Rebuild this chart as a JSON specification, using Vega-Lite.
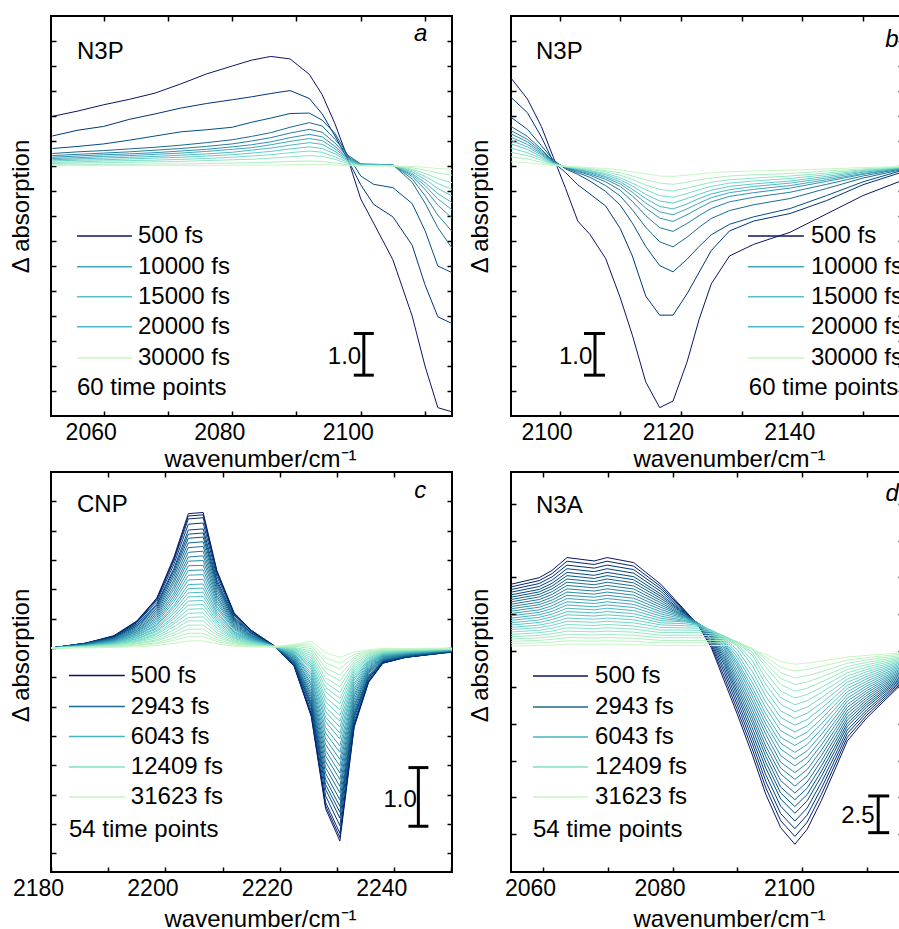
{
"$schema":"https://vega.github.io/schema/vega-lite/v6.json",
"padding":{"left":8,"top":14,"right":0,"bottom":0},
"columns":2,
"spacing":{"row":-4,"column":13},
"resolve":{"scale":{"color":"independent"}},
"config":{"font":"Liberation Sans","view":{"stroke":"black","strokeWidth":2},
"axis":{"domain":false,"grid":false,"tickColor":"black","tickWidth":1.5,"tickSize":-5,"labelFontSize":23,"labelColor":"black","labelPadding":10,"labelFlush":false,"titleFontSize":24,"titleFontWeight":"normal","titleColor":"black","minExtent":0,"maxExtent":200}},
"datasets":{
"a":[
{"k":0,"x":2052,"y":1.19},{"k":0,"x":2056,"y":1.32},{"k":0,"x":2060,"y":1.47},{"k":0,"x":2064,"y":1.60},{"k":0,"x":2068,"y":1.75},{"k":0,"x":2072,"y":1.97},{"k":0,"x":2076,"y":2.21},{"k":0,"x":2080,"y":2.40},{"k":0,"x":2083,"y":2.54},{"k":0,"x":2086,"y":2.63},{"k":0,"x":2089,"y":2.57},{"k":0,"x":2092,"y":2.20},{"k":0,"x":2094,"y":1.71},{"k":0,"x":2096,"y":1.01},{"k":0,"x":2098,"y":0.17},{"k":0,"x":2100,"y":-0.79},{"k":0,"x":2102,"y":-1.37},{"k":0,"x":2105,"y":-2.25},{"k":0,"x":2108,"y":-3.60},{"k":0,"x":2110,"y":-4.80},{"k":0,"x":2112,"y":-5.80},{"k":0,"x":2114.2,"y":-5.90},
{"k":1,"x":2052,"y":0.72},{"k":1,"x":2056,"y":0.86},{"k":1,"x":2060,"y":0.95},{"k":1,"x":2064,"y":1.12},{"k":1,"x":2068,"y":1.25},{"k":1,"x":2072,"y":1.39},{"k":1,"x":2076,"y":1.50},{"k":1,"x":2080,"y":1.59},{"k":1,"x":2083,"y":1.66},{"k":1,"x":2086,"y":1.74},{"k":1,"x":2089,"y":1.81},{"k":1,"x":2092,"y":1.62},{"k":1,"x":2094,"y":1.25},{"k":1,"x":2096,"y":0.72},{"k":1,"x":2098,"y":0.15},{"k":1,"x":2100,"y":-0.45},{"k":1,"x":2102,"y":-0.92},{"k":1,"x":2105,"y":-1.22},{"k":1,"x":2108,"y":-1.90},{"k":1,"x":2110,"y":-2.85},{"k":1,"x":2112,"y":-3.62},{"k":1,"x":2114.2,"y":-3.78},
{"k":2,"x":2052,"y":0.42},{"k":2,"x":2056,"y":0.47},{"k":2,"x":2060,"y":0.53},{"k":2,"x":2064,"y":0.62},{"k":2,"x":2068,"y":0.72},{"k":2,"x":2072,"y":0.82},{"k":2,"x":2076,"y":0.87},{"k":2,"x":2080,"y":0.93},{"k":2,"x":2083,"y":1.05},{"k":2,"x":2086,"y":1.15},{"k":2,"x":2089,"y":1.26},{"k":2,"x":2092,"y":1.27},{"k":2,"x":2094,"y":1.10},{"k":2,"x":2096,"y":0.78},{"k":2,"x":2098,"y":0.25},{"k":2,"x":2100,"y":-0.24},{"k":2,"x":2102,"y":-0.44},{"k":2,"x":2105,"y":-0.52},{"k":2,"x":2108,"y":-0.90},{"k":2,"x":2110,"y":-1.55},{"k":2,"x":2112,"y":-2.40},{"k":2,"x":2114.2,"y":-2.56},
{"k":3,"x":2052,"y":0.30},{"k":3,"x":2056,"y":0.34},{"k":3,"x":2060,"y":0.37},{"k":3,"x":2064,"y":0.41},{"k":3,"x":2068,"y":0.45},{"k":3,"x":2072,"y":0.50},{"k":3,"x":2076,"y":0.56},{"k":3,"x":2080,"y":0.63},{"k":3,"x":2083,"y":0.71},{"k":3,"x":2086,"y":0.80},{"k":3,"x":2089,"y":0.93},{"k":3,"x":2092,"y":1.04},{"k":3,"x":2094,"y":0.96},{"k":3,"x":2096,"y":0.64},{"k":3,"x":2098,"y":0.26},{"k":3,"x":2100,"y":0.05},{"k":3,"x":2102,"y":0.04},{"k":3,"x":2105,"y":0.03},{"k":3,"x":2108,"y":-0.39},{"k":3,"x":2110,"y":-0.89},{"k":3,"x":2112,"y":-1.48},{"k":3,"x":2114.2,"y":-1.97},
{"k":4,"x":2052,"y":0.25},{"k":4,"x":2056,"y":0.28},{"k":4,"x":2060,"y":0.31},{"k":4,"x":2064,"y":0.34},{"k":4,"x":2068,"y":0.38},{"k":4,"x":2072,"y":0.42},{"k":4,"x":2076,"y":0.47},{"k":4,"x":2080,"y":0.53},{"k":4,"x":2083,"y":0.60},{"k":4,"x":2086,"y":0.68},{"k":4,"x":2089,"y":0.79},{"k":4,"x":2092,"y":0.88},{"k":4,"x":2094,"y":0.81},{"k":4,"x":2096,"y":0.55},{"k":4,"x":2098,"y":0.22},{"k":4,"x":2100,"y":0.04},{"k":4,"x":2102,"y":0.04},{"k":4,"x":2105,"y":0.03},{"k":4,"x":2108,"y":-0.31},{"k":4,"x":2110,"y":-0.71},{"k":4,"x":2112,"y":-1.18},{"k":4,"x":2114.2,"y":-1.57},
{"k":5,"x":2052,"y":0.21},{"k":5,"x":2056,"y":0.24},{"k":5,"x":2060,"y":0.27},{"k":5,"x":2064,"y":0.29},{"k":5,"x":2068,"y":0.32},{"k":5,"x":2072,"y":0.36},{"k":5,"x":2076,"y":0.40},{"k":5,"x":2080,"y":0.46},{"k":5,"x":2083,"y":0.51},{"k":5,"x":2086,"y":0.58},{"k":5,"x":2089,"y":0.68},{"k":5,"x":2092,"y":0.76},{"k":5,"x":2094,"y":0.70},{"k":5,"x":2096,"y":0.47},{"k":5,"x":2098,"y":0.19},{"k":5,"x":2100,"y":0.04},{"k":5,"x":2102,"y":0.03},{"k":5,"x":2105,"y":0.02},{"k":5,"x":2108,"y":-0.25},{"k":5,"x":2110,"y":-0.56},{"k":5,"x":2112,"y":-0.94},{"k":5,"x":2114.2,"y":-1.25},
{"k":6,"x":2052,"y":0.18},{"k":6,"x":2056,"y":0.20},{"k":6,"x":2060,"y":0.23},{"k":6,"x":2064,"y":0.25},{"k":6,"x":2068,"y":0.28},{"k":6,"x":2072,"y":0.31},{"k":6,"x":2076,"y":0.35},{"k":6,"x":2080,"y":0.40},{"k":6,"x":2083,"y":0.44},{"k":6,"x":2086,"y":0.51},{"k":6,"x":2089,"y":0.59},{"k":6,"x":2092,"y":0.66},{"k":6,"x":2094,"y":0.61},{"k":6,"x":2096,"y":0.41},{"k":6,"x":2098,"y":0.17},{"k":6,"x":2100,"y":0.03},{"k":6,"x":2102,"y":0.03},{"k":6,"x":2105,"y":0.02},{"k":6,"x":2108,"y":-0.21},{"k":6,"x":2110,"y":-0.47},{"k":6,"x":2112,"y":-0.79},{"k":6,"x":2114.2,"y":-1.05},
{"k":7,"x":2052,"y":0.15},{"k":7,"x":2056,"y":0.17},{"k":7,"x":2060,"y":0.19},{"k":7,"x":2064,"y":0.21},{"k":7,"x":2068,"y":0.23},{"k":7,"x":2072,"y":0.26},{"k":7,"x":2076,"y":0.29},{"k":7,"x":2080,"y":0.33},{"k":7,"x":2083,"y":0.38},{"k":7,"x":2086,"y":0.43},{"k":7,"x":2089,"y":0.50},{"k":7,"x":2092,"y":0.56},{"k":7,"x":2094,"y":0.52},{"k":7,"x":2096,"y":0.35},{"k":7,"x":2098,"y":0.14},{"k":7,"x":2100,"y":0.03},{"k":7,"x":2102,"y":0.02},{"k":7,"x":2105,"y":0.02},{"k":7,"x":2108,"y":-0.18},{"k":7,"x":2110,"y":-0.40},{"k":7,"x":2112,"y":-0.66},{"k":7,"x":2114.2,"y":-0.88},
{"k":8,"x":2052,"y":0.12},{"k":8,"x":2056,"y":0.14},{"k":8,"x":2060,"y":0.15},{"k":8,"x":2064,"y":0.17},{"k":8,"x":2068,"y":0.19},{"k":8,"x":2072,"y":0.21},{"k":8,"x":2076,"y":0.24},{"k":8,"x":2080,"y":0.27},{"k":8,"x":2083,"y":0.31},{"k":8,"x":2086,"y":0.35},{"k":8,"x":2089,"y":0.41},{"k":8,"x":2092,"y":0.46},{"k":8,"x":2094,"y":0.42},{"k":8,"x":2096,"y":0.29},{"k":8,"x":2098,"y":0.12},{"k":8,"x":2100,"y":0.02},{"k":8,"x":2102,"y":0.02},{"k":8,"x":2105,"y":0.01},{"k":8,"x":2108,"y":-0.14},{"k":8,"x":2110,"y":-0.32},{"k":8,"x":2112,"y":-0.54},{"k":8,"x":2114.2,"y":-0.72},
{"k":9,"x":2052,"y":0.09},{"k":9,"x":2056,"y":0.10},{"k":9,"x":2060,"y":0.12},{"k":9,"x":2064,"y":0.13},{"k":9,"x":2068,"y":0.14},{"k":9,"x":2072,"y":0.16},{"k":9,"x":2076,"y":0.18},{"k":9,"x":2080,"y":0.21},{"k":9,"x":2083,"y":0.24},{"k":9,"x":2086,"y":0.27},{"k":9,"x":2089,"y":0.32},{"k":9,"x":2092,"y":0.36},{"k":9,"x":2094,"y":0.33},{"k":9,"x":2096,"y":0.22},{"k":9,"x":2098,"y":0.09},{"k":9,"x":2100,"y":0.02},{"k":9,"x":2102,"y":0.02},{"k":9,"x":2105,"y":0.01},{"k":9,"x":2108,"y":-0.11},{"k":9,"x":2110,"y":-0.25},{"k":9,"x":2112,"y":-0.42},{"k":9,"x":2114.2,"y":-0.56},
{"k":10,"x":2052,"y":0.06},{"k":10,"x":2056,"y":0.07},{"k":10,"x":2060,"y":0.08},{"k":10,"x":2064,"y":0.09},{"k":10,"x":2068,"y":0.10},{"k":10,"x":2072,"y":0.11},{"k":10,"x":2076,"y":0.13},{"k":10,"x":2080,"y":0.15},{"k":10,"x":2083,"y":0.16},{"k":10,"x":2086,"y":0.19},{"k":10,"x":2089,"y":0.22},{"k":10,"x":2092,"y":0.25},{"k":10,"x":2094,"y":0.23},{"k":10,"x":2096,"y":0.16},{"k":10,"x":2098,"y":0.06},{"k":10,"x":2100,"y":0.01},{"k":10,"x":2102,"y":0.01},{"k":10,"x":2105,"y":0.01},{"k":10,"x":2108,"y":-0.08},{"k":10,"x":2110,"y":-0.18},{"k":10,"x":2112,"y":-0.30},{"k":10,"x":2114.2,"y":-0.40},
{"k":11,"x":2052,"y":0.03},{"k":11,"x":2056,"y":0.03},{"k":11,"x":2060,"y":0.04},{"k":11,"x":2064,"y":0.04},{"k":11,"x":2068,"y":0.05},{"k":11,"x":2072,"y":0.05},{"k":11,"x":2076,"y":0.06},{"k":11,"x":2080,"y":0.07},{"k":11,"x":2083,"y":0.08},{"k":11,"x":2086,"y":0.09},{"k":11,"x":2089,"y":0.11},{"k":11,"x":2092,"y":0.12},{"k":11,"x":2094,"y":0.11},{"k":11,"x":2096,"y":0.07},{"k":11,"x":2098,"y":0.03},{"k":11,"x":2100,"y":0.01},{"k":11,"x":2102,"y":0.01},{"k":11,"x":2105,"y":0},{"k":11,"x":2108,"y":-0.04},{"k":11,"x":2110,"y":-0.10},{"k":11,"x":2112,"y":-0.17},{"k":11,"x":2114.2,"y":-0.22},
{"k":12,"x":2052,"y":0.01},{"k":12,"x":2056,"y":0.01},{"k":12,"x":2060,"y":0.01},{"k":12,"x":2064,"y":0.01},{"k":12,"x":2068,"y":0.01},{"k":12,"x":2072,"y":0.01},{"k":12,"x":2076,"y":0.01},{"k":12,"x":2080,"y":0.02},{"k":12,"x":2083,"y":0.02},{"k":12,"x":2086,"y":0.02},{"k":12,"x":2089,"y":0.03},{"k":12,"x":2092,"y":0.04},{"k":12,"x":2094,"y":0.04},{"k":12,"x":2096,"y":0.02},{"k":12,"x":2098,"y":0.01},{"k":12,"x":2100,"y":0},{"k":12,"x":2102,"y":0},{"k":12,"x":2105,"y":0},{"k":12,"x":2108,"y":-0.01},{"k":12,"x":2110,"y":-0.03},{"k":12,"x":2112,"y":-0.06},{"k":12,"x":2114.2,"y":-0.08}
],
"aL":[{"k":0,"x":2055.84,"x2":2064.4,"y":-1.68},{"k":6,"x":2055.84,"x2":2064.4,"y":-2.42},{"k":7.5,"x":2055.84,"x2":2064.4,"y":-3.14},{"k":7,"x":2055.84,"x2":2064.4,"y":-3.86},{"k":12,"x":2055.84,"x2":2064.4,"y":-4.61}],
"aT":[{"x":2065.33,"y":-1.68,"t":"500 fs"},{"x":2065.33,"y":-2.42,"t":"10000 fs"},{"x":2065.33,"y":-3.14,"t":"15000 fs"},{"x":2065.33,"y":-3.86,"t":"20000 fs"},{"x":2065.33,"y":-4.61,"t":"30000 fs"},{"x":2055.84,"y":-5.32,"t":"60 time points"},{"x":2055.84,"y":2.74,"t":"N3P"},{"x":2094.88,"y":-4.58,"t":"1.0"}],
"aG":[{"x":2109.34,"y":3.17,"t":"a"}],
"aS":[{"x":2100.48,"x2":2100.48,"y":-4.02,"y2":-5.02},{"x":2098.92,"x2":2102.03,"y":-4.02,"y2":-4.02},{"x":2098.92,"x2":2102.03,"y":-5.02,"y2":-5.02}],
"b":[
{"k":0,"x":2092,"y":2.11},{"k":0,"x":2094.7,"y":1.61},{"k":0,"x":2097,"y":0.95},{"k":0,"x":2099,"y":0.20},{"k":0,"x":2101,"y":-0.54},{"k":0,"x":2103,"y":-1.32},{"k":0,"x":2105,"y":-1.64},{"k":0,"x":2107.6,"y":-2.22},{"k":0,"x":2110,"y":-3.16},{"k":0,"x":2112,"y":-4.06},{"k":0,"x":2114.2,"y":-5.18},{"k":0,"x":2116.5,"y":-5.80},{"k":0,"x":2118.7,"y":-5.64},{"k":0,"x":2121,"y":-4.71},{"k":0,"x":2123,"y":-3.68},{"k":0,"x":2125,"y":-2.83},{"k":0,"x":2128,"y":-2.16},{"k":0,"x":2132,"y":-1.88},{"k":0,"x":2138,"y":-1.59},{"k":0,"x":2144,"y":-1.15},{"k":0,"x":2150,"y":-0.71},{"k":0,"x":2156.6,"y":-0.34},
{"k":1,"x":2092,"y":1.65},{"k":1,"x":2094.7,"y":1.28},{"k":1,"x":2097,"y":0.70},{"k":1,"x":2099,"y":0.09},{"k":1,"x":2101,"y":-0.16},{"k":1,"x":2103,"y":-0.45},{"k":1,"x":2105,"y":-0.67},{"k":1,"x":2107.6,"y":-0.96},{"k":1,"x":2110,"y":-1.50},{"k":1,"x":2112,"y":-2.16},{"k":1,"x":2114.2,"y":-3.12},{"k":1,"x":2116.5,"y":-3.58},{"k":1,"x":2118.7,"y":-3.58},{"k":1,"x":2121,"y":-3.07},{"k":1,"x":2123,"y":-2.55},{"k":1,"x":2125,"y":-2.03},{"k":1,"x":2128,"y":-1.56},{"k":1,"x":2132,"y":-1.32},{"k":1,"x":2138,"y":-1.14},{"k":1,"x":2144,"y":-0.83},{"k":1,"x":2150,"y":-0.45},{"k":1,"x":2156.6,"y":-0.14},
{"k":2,"x":2092,"y":1.17},{"k":2,"x":2094.7,"y":0.88},{"k":2,"x":2097,"y":0.49},{"k":2,"x":2099,"y":0.14},{"k":2,"x":2101,"y":-0.07},{"k":2,"x":2103,"y":-0.20},{"k":2,"x":2105,"y":-0.36},{"k":2,"x":2107.6,"y":-0.61},{"k":2,"x":2110,"y":-0.94},{"k":2,"x":2112,"y":-1.37},{"k":2,"x":2114.2,"y":-1.93},{"k":2,"x":2116.5,"y":-2.39},{"k":2,"x":2118.7,"y":-2.54},{"k":2,"x":2121,"y":-2.24},{"k":2,"x":2123,"y":-1.93},{"k":2,"x":2125,"y":-1.65},{"k":2,"x":2128,"y":-1.40},{"k":2,"x":2132,"y":-1.22},{"k":2,"x":2138,"y":-1.02},{"k":2,"x":2144,"y":-0.71},{"k":2,"x":2150,"y":-0.38},{"k":2,"x":2156.6,"y":-0.10},
{"k":3,"x":2092,"y":0.95},{"k":3,"x":2094.7,"y":0.71},{"k":3,"x":2097,"y":0.40},{"k":3,"x":2099,"y":0.11},{"k":3,"x":2101,"y":-0.05},{"k":3,"x":2103,"y":-0.16},{"k":3,"x":2105,"y":-0.27},{"k":3,"x":2107.6,"y":-0.47},{"k":3,"x":2110,"y":-0.72},{"k":3,"x":2112,"y":-1.05},{"k":3,"x":2114.2,"y":-1.47},{"k":3,"x":2116.5,"y":-1.82},{"k":3,"x":2118.7,"y":-1.94},{"k":3,"x":2121,"y":-1.71},{"k":3,"x":2123,"y":-1.47},{"k":3,"x":2125,"y":-1.26},{"k":3,"x":2128,"y":-1.07},{"k":3,"x":2132,"y":-0.93},{"k":3,"x":2138,"y":-0.78},{"k":3,"x":2144,"y":-0.54},{"k":3,"x":2150,"y":-0.29},{"k":3,"x":2156.6,"y":-0.08},
{"k":4,"x":2092,"y":0.85},{"k":4,"x":2094.7,"y":0.64},{"k":4,"x":2097,"y":0.36},{"k":4,"x":2099,"y":0.10},{"k":4,"x":2101,"y":-0.04},{"k":4,"x":2103,"y":-0.13},{"k":4,"x":2105,"y":-0.22},{"k":4,"x":2107.6,"y":-0.38},{"k":4,"x":2110,"y":-0.58},{"k":4,"x":2112,"y":-0.85},{"k":4,"x":2114.2,"y":-1.19},{"k":4,"x":2116.5,"y":-1.48},{"k":4,"x":2118.7,"y":-1.57},{"k":4,"x":2121,"y":-1.38},{"k":4,"x":2123,"y":-1.19},{"k":4,"x":2125,"y":-1.02},{"k":4,"x":2128,"y":-0.86},{"k":4,"x":2132,"y":-0.75},{"k":4,"x":2138,"y":-0.63},{"k":4,"x":2144,"y":-0.44},{"k":4,"x":2150,"y":-0.24},{"k":4,"x":2156.6,"y":-0.06},
{"k":5,"x":2092,"y":0.77},{"k":5,"x":2094.7,"y":0.58},{"k":5,"x":2097,"y":0.32},{"k":5,"x":2099,"y":0.09},{"k":5,"x":2101,"y":-0.03},{"k":5,"x":2103,"y":-0.11},{"k":5,"x":2105,"y":-0.19},{"k":5,"x":2107.6,"y":-0.32},{"k":5,"x":2110,"y":-0.49},{"k":5,"x":2112,"y":-0.72},{"k":5,"x":2114.2,"y":-1.01},{"k":5,"x":2116.5,"y":-1.25},{"k":5,"x":2118.7,"y":-1.33},{"k":5,"x":2121,"y":-1.17},{"k":5,"x":2123,"y":-1.01},{"k":5,"x":2125,"y":-0.86},{"k":5,"x":2128,"y":-0.73},{"k":5,"x":2132,"y":-0.64},{"k":5,"x":2138,"y":-0.53},{"k":5,"x":2144,"y":-0.37},{"k":5,"x":2150,"y":-0.20},{"k":5,"x":2156.6,"y":-0.05},
{"k":6,"x":2092,"y":0.69},{"k":6,"x":2094.7,"y":0.52},{"k":6,"x":2097,"y":0.29},{"k":6,"x":2099,"y":0.08},{"k":6,"x":2101,"y":-0.03},{"k":6,"x":2103,"y":-0.09},{"k":6,"x":2105,"y":-0.16},{"k":6,"x":2107.6,"y":-0.28},{"k":6,"x":2110,"y":-0.43},{"k":6,"x":2112,"y":-0.63},{"k":6,"x":2114.2,"y":-0.89},{"k":6,"x":2116.5,"y":-1.10},{"k":6,"x":2118.7,"y":-1.17},{"k":6,"x":2121,"y":-1.03},{"k":6,"x":2123,"y":-0.89},{"k":6,"x":2125,"y":-0.76},{"k":6,"x":2128,"y":-0.64},{"k":6,"x":2132,"y":-0.56},{"k":6,"x":2138,"y":-0.47},{"k":6,"x":2144,"y":-0.33},{"k":6,"x":2150,"y":-0.18},{"k":6,"x":2156.6,"y":-0.05},
{"k":7,"x":2092,"y":0.61},{"k":7,"x":2094.7,"y":0.46},{"k":7,"x":2097,"y":0.26},{"k":7,"x":2099,"y":0.07},{"k":7,"x":2101,"y":-0.02},{"k":7,"x":2103,"y":-0.08},{"k":7,"x":2105,"y":-0.14},{"k":7,"x":2107.6,"y":-0.25},{"k":7,"x":2110,"y":-0.38},{"k":7,"x":2112,"y":-0.56},{"k":7,"x":2114.2,"y":-0.78},{"k":7,"x":2116.5,"y":-0.97},{"k":7,"x":2118.7,"y":-1.03},{"k":7,"x":2121,"y":-0.91},{"k":7,"x":2123,"y":-0.78},{"k":7,"x":2125,"y":-0.67},{"k":7,"x":2128,"y":-0.57},{"k":7,"x":2132,"y":-0.49},{"k":7,"x":2138,"y":-0.41},{"k":7,"x":2144,"y":-0.29},{"k":7,"x":2150,"y":-0.15},{"k":7,"x":2156.6,"y":-0.04},
{"k":8,"x":2092,"y":0.53},{"k":8,"x":2094.7,"y":0.40},{"k":8,"x":2097,"y":0.22},{"k":8,"x":2099,"y":0.06},{"k":8,"x":2101,"y":-0.02},{"k":8,"x":2103,"y":-0.07},{"k":8,"x":2105,"y":-0.12},{"k":8,"x":2107.6,"y":-0.21},{"k":8,"x":2110,"y":-0.33},{"k":8,"x":2112,"y":-0.48},{"k":8,"x":2114.2,"y":-0.68},{"k":8,"x":2116.5,"y":-0.84},{"k":8,"x":2118.7,"y":-0.89},{"k":8,"x":2121,"y":-0.78},{"k":8,"x":2123,"y":-0.68},{"k":8,"x":2125,"y":-0.58},{"k":8,"x":2128,"y":-0.49},{"k":8,"x":2132,"y":-0.43},{"k":8,"x":2138,"y":-0.36},{"k":8,"x":2144,"y":-0.25},{"k":8,"x":2150,"y":-0.13},{"k":8,"x":2156.6,"y":-0.04},
{"k":9,"x":2092,"y":0.43},{"k":9,"x":2094.7,"y":0.32},{"k":9,"x":2097,"y":0.18},{"k":9,"x":2099,"y":0.05},{"k":9,"x":2101,"y":-0.02},{"k":9,"x":2103,"y":-0.06},{"k":9,"x":2105,"y":-0.11},{"k":9,"x":2107.6,"y":-0.18},{"k":9,"x":2110,"y":-0.28},{"k":9,"x":2112,"y":-0.41},{"k":9,"x":2114.2,"y":-0.57},{"k":9,"x":2116.5,"y":-0.71},{"k":9,"x":2118.7,"y":-0.75},{"k":9,"x":2121,"y":-0.66},{"k":9,"x":2123,"y":-0.57},{"k":9,"x":2125,"y":-0.49},{"k":9,"x":2128,"y":-0.41},{"k":9,"x":2132,"y":-0.36},{"k":9,"x":2138,"y":-0.30},{"k":9,"x":2144,"y":-0.21},{"k":9,"x":2150,"y":-0.11},{"k":9,"x":2156.6,"y":-0.03},
{"k":10,"x":2092,"y":0.33},{"k":10,"x":2094.7,"y":0.25},{"k":10,"x":2097,"y":0.14},{"k":10,"x":2099,"y":0.04},{"k":10,"x":2101,"y":-0.01},{"k":10,"x":2103,"y":-0.05},{"k":10,"x":2105,"y":-0.08},{"k":10,"x":2107.6,"y":-0.14},{"k":10,"x":2110,"y":-0.22},{"k":10,"x":2112,"y":-0.32},{"k":10,"x":2114.2,"y":-0.46},{"k":10,"x":2116.5,"y":-0.56},{"k":10,"x":2118.7,"y":-0.60},{"k":10,"x":2121,"y":-0.53},{"k":10,"x":2123,"y":-0.46},{"k":10,"x":2125,"y":-0.39},{"k":10,"x":2128,"y":-0.33},{"k":10,"x":2132,"y":-0.29},{"k":10,"x":2138,"y":-0.24},{"k":10,"x":2144,"y":-0.17},{"k":10,"x":2150,"y":-0.09},{"k":10,"x":2156.6,"y":-0.02},
{"k":11,"x":2092,"y":0.22},{"k":11,"x":2094.7,"y":0.17},{"k":11,"x":2097,"y":0.09},{"k":11,"x":2099,"y":0.03},{"k":11,"x":2101,"y":-0.01},{"k":11,"x":2103,"y":-0.04},{"k":11,"x":2105,"y":-0.06},{"k":11,"x":2107.6,"y":-0.11},{"k":11,"x":2110,"y":-0.16},{"k":11,"x":2112,"y":-0.24},{"k":11,"x":2114.2,"y":-0.33},{"k":11,"x":2116.5,"y":-0.41},{"k":11,"x":2118.7,"y":-0.44},{"k":11,"x":2121,"y":-0.39},{"k":11,"x":2123,"y":-0.33},{"k":11,"x":2125,"y":-0.29},{"k":11,"x":2128,"y":-0.24},{"k":11,"x":2132,"y":-0.21},{"k":11,"x":2138,"y":-0.18},{"k":11,"x":2144,"y":-0.12},{"k":11,"x":2150,"y":-0.07},{"k":11,"x":2156.6,"y":-0.02},
{"k":12,"x":2092,"y":0.10},{"k":12,"x":2094.7,"y":0.08},{"k":12,"x":2097,"y":0.04},{"k":12,"x":2099,"y":0.01},{"k":12,"x":2101,"y":-0.01},{"k":12,"x":2103,"y":-0.02},{"k":12,"x":2105,"y":-0.04},{"k":12,"x":2107.6,"y":-0.06},{"k":12,"x":2110,"y":-0.09},{"k":12,"x":2112,"y":-0.14},{"k":12,"x":2114.2,"y":-0.19},{"k":12,"x":2116.5,"y":-0.24},{"k":12,"x":2118.7,"y":-0.25},{"k":12,"x":2121,"y":-0.22},{"k":12,"x":2123,"y":-0.19},{"k":12,"x":2125,"y":-0.16},{"k":12,"x":2128,"y":-0.14},{"k":12,"x":2132,"y":-0.12},{"k":12,"x":2138,"y":-0.10},{"k":12,"x":2144,"y":-0.07},{"k":12,"x":2150,"y":-0.04},{"k":12,"x":2156.6,"y":-0.01}
],
"bL":[{"k":0,"x":2131.04,"x2":2140.27,"y":-1.68},{"k":6,"x":2131.04,"x2":2140.27,"y":-2.42},{"k":7.5,"x":2131.04,"x2":2140.27,"y":-3.14},{"k":7,"x":2131.04,"x2":2140.27,"y":-3.86},{"k":12,"x":2131.04,"x2":2140.27,"y":-4.61}],
"bT":[{"x":2141.42,"y":-1.68,"t":"500 fs"},{"x":2141.42,"y":-2.42,"t":"10000 fs"},{"x":2141.42,"y":-3.14,"t":"15000 fs"},{"x":2141.42,"y":-3.86,"t":"20000 fs"},{"x":2141.42,"y":-4.61,"t":"30000 fs"},{"x":2131.2,"y":-5.32,"t":"60 time points"},{"x":2096.12,"y":2.74,"t":"N3P"},{"x":2099.91,"y":-4.58,"t":"1.0"}],
"bG":[{"x":2154.77,"y":3.03,"t":"b"}],
"bS":[{"x":2105.84,"x2":2105.84,"y":-4.02,"y2":-5.02},{"x":2104.03,"x2":2107.49,"y":-4.02,"y2":-4.02},{"x":2104.03,"x2":2107.49,"y":-5.02,"y2":-5.02}],
"c":[
{"k":0,"x":2180,"y":0},{"k":0,"x":2186,"y":0.08},{"k":0,"x":2191,"y":0.21},{"k":0,"x":2195,"y":0.46},{"k":0,"x":2198.5,"y":0.85},{"k":0,"x":2201.5,"y":1.55},{"k":0,"x":2204,"y":2.29},{"k":0,"x":2206.6,"y":2.31},{"k":0,"x":2209,"y":1.32},{"k":0,"x":2212,"y":0.60},{"k":0,"x":2215,"y":0.30},{"k":0,"x":2219,"y":0.04},{"k":0,"x":2222.5,"y":-0.31},{"k":0,"x":2225.5,"y":-1.17},{"k":0,"x":2228,"y":-2.74},{"k":0,"x":2230.5,"y":-3.29},{"k":0,"x":2233,"y":-1.35},{"k":0,"x":2235.5,"y":-0.59},{"k":0,"x":2238,"y":-0.26},{"k":0,"x":2242,"y":-0.16},{"k":0,"x":2250.1,"y":-0.07},
{"k":1,"x":2180,"y":0},{"k":1,"x":2186,"y":0.08},{"k":1,"x":2191,"y":0.2},{"k":1,"x":2195,"y":0.45},{"k":1,"x":2198.5,"y":0.84},{"k":1,"x":2201.5,"y":1.52},{"k":1,"x":2204,"y":2.25},{"k":1,"x":2206.6,"y":2.27},{"k":1,"x":2209,"y":1.3},{"k":1,"x":2212,"y":0.59},{"k":1,"x":2215,"y":0.3},{"k":1,"x":2219,"y":0.04},{"k":1,"x":2222.5,"y":-0.31},{"k":1,"x":2225.5,"y":-1.15},{"k":1,"x":2228,"y":-2.69},{"k":1,"x":2230.5,"y":-3.23},{"k":1,"x":2233,"y":-1.33},{"k":1,"x":2235.5,"y":-0.58},{"k":1,"x":2238,"y":-0.26},{"k":1,"x":2242,"y":-0.16},{"k":1,"x":2250.1,"y":-0.07},
{"k":2,"x":2180,"y":0},{"k":2,"x":2186,"y":0.08},{"k":2,"x":2191,"y":0.20},{"k":2,"x":2195,"y":0.44},{"k":2,"x":2198.5,"y":0.82},{"k":2,"x":2201.5,"y":1.49},{"k":2,"x":2204,"y":2.20},{"k":2,"x":2206.6,"y":2.22},{"k":2,"x":2209,"y":1.27},{"k":2,"x":2212,"y":0.58},{"k":2,"x":2215,"y":0.29},{"k":2,"x":2219,"y":0.03},{"k":2,"x":2222.5,"y":-0.30},{"k":2,"x":2225.5,"y":-1.12},{"k":2,"x":2228,"y":-2.63},{"k":2,"x":2230.5,"y":-3.16},{"k":2,"x":2233,"y":-1.30},{"k":2,"x":2235.5,"y":-0.57},{"k":2,"x":2238,"y":-0.25},{"k":2,"x":2242,"y":-0.16},{"k":2,"x":2250.1,"y":-0.06},
{"k":3,"x":2180,"y":0},{"k":3,"x":2186,"y":0.08},{"k":3,"x":2191,"y":0.19},{"k":3,"x":2195,"y":0.43},{"k":3,"x":2198.5,"y":0.79},{"k":3,"x":2201.5,"y":1.43},{"k":3,"x":2204,"y":2.11},{"k":3,"x":2206.6,"y":2.13},{"k":3,"x":2209,"y":1.22},{"k":3,"x":2212,"y":0.56},{"k":3,"x":2215,"y":0.28},{"k":3,"x":2219,"y":0.03},{"k":3,"x":2222.5,"y":-0.29},{"k":3,"x":2225.5,"y":-1.07},{"k":3,"x":2228,"y":-2.52},{"k":3,"x":2230.5,"y":-3.03},{"k":3,"x":2233,"y":-1.25},{"k":3,"x":2235.5,"y":-0.55},{"k":3,"x":2238,"y":-0.24},{"k":3,"x":2242,"y":-0.16},{"k":3,"x":2250.1,"y":-0.06},
{"k":4,"x":2180,"y":0},{"k":4,"x":2186,"y":0.07},{"k":4,"x":2191,"y":0.18},{"k":4,"x":2195,"y":0.41},{"k":4,"x":2198.5,"y":0.75},{"k":4,"x":2201.5,"y":1.36},{"k":4,"x":2204,"y":2.01},{"k":4,"x":2206.6,"y":2.03},{"k":4,"x":2209,"y":1.16},{"k":4,"x":2212,"y":0.53},{"k":4,"x":2215,"y":0.26},{"k":4,"x":2219,"y":0.03},{"k":4,"x":2222.5,"y":-0.27},{"k":4,"x":2225.5,"y":-1.01},{"k":4,"x":2228,"y":-2.41},{"k":4,"x":2230.5,"y":-2.90},{"k":4,"x":2233,"y":-1.19},{"k":4,"x":2235.5,"y":-0.52},{"k":4,"x":2238,"y":-0.23},{"k":4,"x":2242,"y":-0.15},{"k":4,"x":2250.1,"y":-0.06},
{"k":5,"x":2180,"y":0},{"k":5,"x":2186,"y":0.07},{"k":5,"x":2191,"y":0.18},{"k":5,"x":2195,"y":0.4},{"k":5,"x":2198.5,"y":0.73},{"k":5,"x":2201.5,"y":1.32},{"k":5,"x":2204,"y":1.94},{"k":5,"x":2206.6,"y":1.96},{"k":5,"x":2209,"y":1.12},{"k":5,"x":2212,"y":0.51},{"k":5,"x":2215,"y":0.26},{"k":5,"x":2219,"y":0.03},{"k":5,"x":2222.5,"y":-0.26},{"k":5,"x":2225.5,"y":-0.97},{"k":5,"x":2228,"y":-2.33},{"k":5,"x":2230.5,"y":-2.8},{"k":5,"x":2233,"y":-1.15},{"k":5,"x":2235.5,"y":-0.51},{"k":5,"x":2238,"y":-0.23},{"k":5,"x":2242,"y":-0.15},{"k":5,"x":2250.1,"y":-0.06},
{"k":6,"x":2180,"y":0},{"k":6,"x":2186,"y":0.07},{"k":6,"x":2191,"y":0.17},{"k":6,"x":2195,"y":0.38},{"k":6,"x":2198.5,"y":0.70},{"k":6,"x":2201.5,"y":1.27},{"k":6,"x":2204,"y":1.87},{"k":6,"x":2206.6,"y":1.89},{"k":6,"x":2209,"y":1.08},{"k":6,"x":2212,"y":0.49},{"k":6,"x":2215,"y":0.25},{"k":6,"x":2219,"y":0.03},{"k":6,"x":2222.5,"y":-0.24},{"k":6,"x":2225.5,"y":-0.93},{"k":6,"x":2228,"y":-2.24},{"k":6,"x":2230.5,"y":-2.70},{"k":6,"x":2233,"y":-1.11},{"k":6,"x":2235.5,"y":-0.49},{"k":6,"x":2238,"y":-0.22},{"k":6,"x":2242,"y":-0.14},{"k":6,"x":2250.1,"y":-0.05},
{"k":7,"x":2180,"y":0},{"k":7,"x":2186,"y":0.07},{"k":7,"x":2191,"y":0.17},{"k":7,"x":2195,"y":0.37},{"k":7,"x":2198.5,"y":0.67},{"k":7,"x":2201.5,"y":1.22},{"k":7,"x":2204,"y":1.79},{"k":7,"x":2206.6,"y":1.81},{"k":7,"x":2209,"y":1.04},{"k":7,"x":2212,"y":0.47},{"k":7,"x":2215,"y":0.24},{"k":7,"x":2219,"y":0.03},{"k":7,"x":2222.5,"y":-0.23},{"k":7,"x":2225.5,"y":-0.88},{"k":7,"x":2228,"y":-2.14},{"k":7,"x":2230.5,"y":-2.59},{"k":7,"x":2233,"y":-1.06},{"k":7,"x":2235.5,"y":-0.47},{"k":7,"x":2238,"y":-0.21},{"k":7,"x":2242,"y":-0.13},{"k":7,"x":2250.1,"y":-0.05},
{"k":8,"x":2180,"y":0},{"k":8,"x":2186,"y":0.06},{"k":8,"x":2191,"y":0.16},{"k":8,"x":2195,"y":0.35},{"k":8,"x":2198.5,"y":0.64},{"k":8,"x":2201.5,"y":1.16},{"k":8,"x":2204,"y":1.71},{"k":8,"x":2206.6,"y":1.73},{"k":8,"x":2209,"y":0.99},{"k":8,"x":2212,"y":0.45},{"k":8,"x":2215,"y":0.22},{"k":8,"x":2219,"y":0.03},{"k":8,"x":2222.5,"y":-0.22},{"k":8,"x":2225.5,"y":-0.83},{"k":8,"x":2228,"y":-2.04},{"k":8,"x":2230.5,"y":-2.47},{"k":8,"x":2233,"y":-1.01},{"k":8,"x":2235.5,"y":-0.44},{"k":8,"x":2238,"y":-0.20},{"k":8,"x":2242,"y":-0.12},{"k":8,"x":2250.1,"y":-0.05},
{"k":9,"x":2180,"y":0},{"k":9,"x":2186,"y":0.06},{"k":9,"x":2191,"y":0.15},{"k":9,"x":2195,"y":0.33},{"k":9,"x":2198.5,"y":0.61},{"k":9,"x":2201.5,"y":1.11},{"k":9,"x":2204,"y":1.63},{"k":9,"x":2206.6,"y":1.65},{"k":9,"x":2209,"y":0.94},{"k":9,"x":2212,"y":0.43},{"k":9,"x":2215,"y":0.21},{"k":9,"x":2219,"y":0.03},{"k":9,"x":2222.5,"y":-0.21},{"k":9,"x":2225.5,"y":-0.79},{"k":9,"x":2228,"y":-1.94},{"k":9,"x":2230.5,"y":-2.36},{"k":9,"x":2233,"y":-0.97},{"k":9,"x":2235.5,"y":-0.42},{"k":9,"x":2238,"y":-0.19},{"k":9,"x":2242,"y":-0.12},{"k":9,"x":2250.1,"y":-0.05},
{"k":10,"x":2180,"y":0},{"k":10,"x":2186,"y":0.05},{"k":10,"x":2191,"y":0.14},{"k":10,"x":2195,"y":0.31},{"k":10,"x":2198.5,"y":0.58},{"k":10,"x":2201.5,"y":1.05},{"k":10,"x":2204,"y":1.55},{"k":10,"x":2206.6,"y":1.57},{"k":10,"x":2209,"y":0.89},{"k":10,"x":2212,"y":0.41},{"k":10,"x":2215,"y":0.20},{"k":10,"x":2219,"y":0.03},{"k":10,"x":2222.5,"y":-0.19},{"k":10,"x":2225.5,"y":-0.74},{"k":10,"x":2228,"y":-1.84},{"k":10,"x":2230.5,"y":-2.24},{"k":10,"x":2233,"y":-0.92},{"k":10,"x":2235.5,"y":-0.40},{"k":10,"x":2238,"y":-0.18},{"k":10,"x":2242,"y":-0.11},{"k":10,"x":2250.1,"y":-0.04},
{"k":11,"x":2180,"y":0},{"k":11,"x":2186,"y":0.05},{"k":11,"x":2191,"y":0.14},{"k":11,"x":2195,"y":0.3},{"k":11,"x":2198.5,"y":0.55},{"k":11,"x":2201.5,"y":1.0},{"k":11,"x":2204,"y":1.48},{"k":11,"x":2206.6,"y":1.49},{"k":11,"x":2209,"y":0.85},{"k":11,"x":2212,"y":0.39},{"k":11,"x":2215,"y":0.19},{"k":11,"x":2219,"y":0.03},{"k":11,"x":2222.5,"y":-0.18},{"k":11,"x":2225.5,"y":-0.69},{"k":11,"x":2228,"y":-1.75},{"k":11,"x":2230.5,"y":-2.13},{"k":11,"x":2233,"y":-0.87},{"k":11,"x":2235.5,"y":-0.38},{"k":11,"x":2238,"y":-0.17},{"k":11,"x":2242,"y":-0.11},{"k":11,"x":2250.1,"y":-0.04},
{"k":12,"x":2180,"y":0},{"k":12,"x":2186,"y":0.05},{"k":12,"x":2191,"y":0.13},{"k":12,"x":2195,"y":0.28},{"k":12,"x":2198.5,"y":0.52},{"k":12,"x":2201.5,"y":0.94},{"k":12,"x":2204,"y":1.40},{"k":12,"x":2206.6,"y":1.41},{"k":12,"x":2209,"y":0.80},{"k":12,"x":2212,"y":0.37},{"k":12,"x":2215,"y":0.18},{"k":12,"x":2219,"y":0.03},{"k":12,"x":2222.5,"y":-0.16},{"k":12,"x":2225.5,"y":-0.64},{"k":12,"x":2228,"y":-1.65},{"k":12,"x":2230.5,"y":-2.01},{"k":12,"x":2233,"y":-0.82},{"k":12,"x":2235.5,"y":-0.36},{"k":12,"x":2238,"y":-0.16},{"k":12,"x":2242,"y":-0.10},{"k":12,"x":2250.1,"y":-0.04},
{"k":13,"x":2180,"y":0},{"k":13,"x":2186,"y":0.05},{"k":13,"x":2191,"y":0.12},{"k":13,"x":2195,"y":0.27},{"k":13,"x":2198.5,"y":0.49},{"k":13,"x":2201.5,"y":0.89},{"k":13,"x":2204,"y":1.32},{"k":13,"x":2206.6,"y":1.33},{"k":13,"x":2209,"y":0.76},{"k":13,"x":2212,"y":0.35},{"k":13,"x":2215,"y":0.17},{"k":13,"x":2219,"y":0.03},{"k":13,"x":2222.5,"y":-0.15},{"k":13,"x":2225.5,"y":-0.6},{"k":13,"x":2228,"y":-1.55},{"k":13,"x":2230.5,"y":-1.9},{"k":13,"x":2233,"y":-0.78},{"k":13,"x":2235.5,"y":-0.34},{"k":13,"x":2238,"y":-0.15},{"k":13,"x":2242,"y":-0.1},{"k":13,"x":2250.1,"y":-0.04},
{"k":14,"x":2180,"y":0},{"k":14,"x":2186,"y":0.04},{"k":14,"x":2191,"y":0.11},{"k":14,"x":2195,"y":0.25},{"k":14,"x":2198.5,"y":0.46},{"k":14,"x":2201.5,"y":0.84},{"k":14,"x":2204,"y":1.24},{"k":14,"x":2206.6,"y":1.25},{"k":14,"x":2209,"y":0.71},{"k":14,"x":2212,"y":0.33},{"k":14,"x":2215,"y":0.16},{"k":14,"x":2219,"y":0.03},{"k":14,"x":2222.5,"y":-0.13},{"k":14,"x":2225.5,"y":-0.55},{"k":14,"x":2228,"y":-1.45},{"k":14,"x":2230.5,"y":-1.78},{"k":14,"x":2233,"y":-0.73},{"k":14,"x":2235.5,"y":-0.32},{"k":14,"x":2238,"y":-0.14},{"k":14,"x":2242,"y":-0.09},{"k":14,"x":2250.1,"y":-0.04},
{"k":15,"x":2180,"y":0},{"k":15,"x":2186,"y":0.04},{"k":15,"x":2191,"y":0.11},{"k":15,"x":2195,"y":0.24},{"k":15,"x":2198.5,"y":0.43},{"k":15,"x":2201.5,"y":0.79},{"k":15,"x":2204,"y":1.16},{"k":15,"x":2206.6,"y":1.17},{"k":15,"x":2209,"y":0.67},{"k":15,"x":2212,"y":0.31},{"k":15,"x":2215,"y":0.15},{"k":15,"x":2219,"y":0.03},{"k":15,"x":2222.5,"y":-0.12},{"k":15,"x":2225.5,"y":-0.51},{"k":15,"x":2228,"y":-1.36},{"k":15,"x":2230.5,"y":-1.67},{"k":15,"x":2233,"y":-0.69},{"k":15,"x":2235.5,"y":-0.3},{"k":15,"x":2238,"y":-0.13},{"k":15,"x":2242,"y":-0.09},{"k":15,"x":2250.1,"y":-0.04},
{"k":16,"x":2180,"y":0},{"k":16,"x":2186,"y":0.04},{"k":16,"x":2191,"y":0.10},{"k":16,"x":2195,"y":0.22},{"k":16,"x":2198.5,"y":0.40},{"k":16,"x":2201.5,"y":0.73},{"k":16,"x":2204,"y":1.08},{"k":16,"x":2206.6,"y":1.09},{"k":16,"x":2209,"y":0.62},{"k":16,"x":2212,"y":0.28},{"k":16,"x":2215,"y":0.14},{"k":16,"x":2219,"y":0.02},{"k":16,"x":2222.5,"y":-0.11},{"k":16,"x":2225.5,"y":-0.46},{"k":16,"x":2228,"y":-1.26},{"k":16,"x":2230.5,"y":-1.55},{"k":16,"x":2233,"y":-0.64},{"k":16,"x":2235.5,"y":-0.28},{"k":16,"x":2238,"y":-0.12},{"k":16,"x":2242,"y":-0.08},{"k":16,"x":2250.1,"y":-0.03},
{"k":17,"x":2180,"y":0},{"k":17,"x":2186,"y":0.04},{"k":17,"x":2191,"y":0.1},{"k":17,"x":2195,"y":0.21},{"k":17,"x":2198.5,"y":0.38},{"k":17,"x":2201.5,"y":0.69},{"k":17,"x":2204,"y":1.01},{"k":17,"x":2206.6,"y":1.02},{"k":17,"x":2209,"y":0.58},{"k":17,"x":2212,"y":0.27},{"k":17,"x":2215,"y":0.13},{"k":17,"x":2219,"y":0.03},{"k":17,"x":2222.5,"y":-0.1},{"k":17,"x":2225.5,"y":-0.42},{"k":17,"x":2228,"y":-1.18},{"k":17,"x":2230.5,"y":-1.45},{"k":17,"x":2233,"y":-0.6},{"k":17,"x":2235.5,"y":-0.26},{"k":17,"x":2238,"y":-0.12},{"k":17,"x":2242,"y":-0.08},{"k":17,"x":2250.1,"y":-0.03},
{"k":18,"x":2180,"y":0},{"k":18,"x":2186,"y":0.03},{"k":18,"x":2191,"y":0.09},{"k":18,"x":2195,"y":0.19},{"k":18,"x":2198.5,"y":0.35},{"k":18,"x":2201.5,"y":0.64},{"k":18,"x":2204,"y":0.94},{"k":18,"x":2206.6,"y":0.95},{"k":18,"x":2209,"y":0.54},{"k":18,"x":2212,"y":0.25},{"k":18,"x":2215,"y":0.12},{"k":18,"x":2219,"y":0.03},{"k":18,"x":2222.5,"y":-0.08},{"k":18,"x":2225.5,"y":-0.37},{"k":18,"x":2228,"y":-1.09},{"k":18,"x":2230.5,"y":-1.35},{"k":18,"x":2233,"y":-0.55},{"k":18,"x":2235.5,"y":-0.24},{"k":18,"x":2238,"y":-0.11},{"k":18,"x":2242,"y":-0.07},{"k":18,"x":2250.1,"y":-0.03},
{"k":19,"x":2180,"y":0},{"k":19,"x":2186,"y":0.03},{"k":19,"x":2191,"y":0.08},{"k":19,"x":2195,"y":0.18},{"k":19,"x":2198.5,"y":0.33},{"k":19,"x":2201.5,"y":0.59},{"k":19,"x":2204,"y":0.87},{"k":19,"x":2206.6,"y":0.88},{"k":19,"x":2209,"y":0.5},{"k":19,"x":2212,"y":0.23},{"k":19,"x":2215,"y":0.12},{"k":19,"x":2219,"y":0.03},{"k":19,"x":2222.5,"y":-0.07},{"k":19,"x":2225.5,"y":-0.33},{"k":19,"x":2228,"y":-1.01},{"k":19,"x":2230.5,"y":-1.25},{"k":19,"x":2233,"y":-0.51},{"k":19,"x":2235.5,"y":-0.23},{"k":19,"x":2238,"y":-0.1},{"k":19,"x":2242,"y":-0.07},{"k":19,"x":2250.1,"y":-0.03},
{"k":20,"x":2180,"y":0},{"k":20,"x":2186,"y":0.03},{"k":20,"x":2191,"y":0.07},{"k":20,"x":2195,"y":0.16},{"k":20,"x":2198.5,"y":0.30},{"k":20,"x":2201.5,"y":0.54},{"k":20,"x":2204,"y":0.80},{"k":20,"x":2206.6,"y":0.81},{"k":20,"x":2209,"y":0.46},{"k":20,"x":2212,"y":0.21},{"k":20,"x":2215,"y":0.11},{"k":20,"x":2219,"y":0.03},{"k":20,"x":2222.5,"y":-0.06},{"k":20,"x":2225.5,"y":-0.29},{"k":20,"x":2228,"y":-0.92},{"k":20,"x":2230.5,"y":-1.15},{"k":20,"x":2233,"y":-0.47},{"k":20,"x":2235.5,"y":-0.21},{"k":20,"x":2238,"y":-0.09},{"k":20,"x":2242,"y":-0.06},{"k":20,"x":2250.1,"y":-0.02},
{"k":21,"x":2180,"y":0},{"k":21,"x":2186,"y":0.03},{"k":21,"x":2191,"y":0.07},{"k":21,"x":2195,"y":0.15},{"k":21,"x":2198.5,"y":0.28},{"k":21,"x":2201.5,"y":0.5},{"k":21,"x":2204,"y":0.73},{"k":21,"x":2206.6,"y":0.74},{"k":21,"x":2209,"y":0.42},{"k":21,"x":2212,"y":0.19},{"k":21,"x":2215,"y":0.1},{"k":21,"x":2219,"y":0.03},{"k":21,"x":2222.5,"y":-0.05},{"k":21,"x":2225.5,"y":-0.25},{"k":21,"x":2228,"y":-0.84},{"k":21,"x":2230.5,"y":-1.05},{"k":21,"x":2233,"y":-0.43},{"k":21,"x":2235.5,"y":-0.19},{"k":21,"x":2238,"y":-0.09},{"k":21,"x":2242,"y":-0.06},{"k":21,"x":2250.1,"y":-0.02},
{"k":22,"x":2180,"y":0},{"k":22,"x":2186,"y":0.02},{"k":22,"x":2191,"y":0.06},{"k":22,"x":2195,"y":0.13},{"k":22,"x":2198.5,"y":0.25},{"k":22,"x":2201.5,"y":0.45},{"k":22,"x":2204,"y":0.66},{"k":22,"x":2206.6,"y":0.67},{"k":22,"x":2209,"y":0.38},{"k":22,"x":2212,"y":0.17},{"k":22,"x":2215,"y":0.09},{"k":22,"x":2219,"y":0.02},{"k":22,"x":2222.5,"y":-0.03},{"k":22,"x":2225.5,"y":-0.21},{"k":22,"x":2228,"y":-0.75},{"k":22,"x":2230.5,"y":-0.95},{"k":22,"x":2233,"y":-0.39},{"k":22,"x":2235.5,"y":-0.17},{"k":22,"x":2238,"y":-0.08},{"k":22,"x":2242,"y":-0.05},{"k":22,"x":2250.1,"y":-0.02},
{"k":23,"x":2180,"y":0},{"k":23,"x":2186,"y":0.02},{"k":23,"x":2191,"y":0.06},{"k":23,"x":2195,"y":0.12},{"k":23,"x":2198.5,"y":0.23},{"k":23,"x":2201.5,"y":0.41},{"k":23,"x":2204,"y":0.59},{"k":23,"x":2206.6,"y":0.6},{"k":23,"x":2209,"y":0.34},{"k":23,"x":2212,"y":0.16},{"k":23,"x":2215,"y":0.08},{"k":23,"x":2219,"y":0.02},{"k":23,"x":2222.5,"y":-0.02},{"k":23,"x":2225.5,"y":-0.17},{"k":23,"x":2228,"y":-0.67},{"k":23,"x":2230.5,"y":-0.86},{"k":23,"x":2233,"y":-0.35},{"k":23,"x":2235.5,"y":-0.16},{"k":23,"x":2238,"y":-0.07},{"k":23,"x":2242,"y":-0.05},{"k":23,"x":2250.1,"y":-0.02},
{"k":24,"x":2180,"y":0},{"k":24,"x":2186,"y":0.02},{"k":24,"x":2191,"y":0.05},{"k":24,"x":2195,"y":0.11},{"k":24,"x":2198.5,"y":0.20},{"k":24,"x":2201.5,"y":0.36},{"k":24,"x":2204,"y":0.52},{"k":24,"x":2206.6,"y":0.53},{"k":24,"x":2209,"y":0.30},{"k":24,"x":2212,"y":0.14},{"k":24,"x":2215,"y":0.07},{"k":24,"x":2219,"y":0.02},{"k":24,"x":2222.5,"y":-0.01},{"k":24,"x":2225.5,"y":-0.13},{"k":24,"x":2228,"y":-0.59},{"k":24,"x":2230.5,"y":-0.76},{"k":24,"x":2233,"y":-0.31},{"k":24,"x":2235.5,"y":-0.14},{"k":24,"x":2238,"y":-0.06},{"k":24,"x":2242,"y":-0.04},{"k":24,"x":2250.1,"y":-0.02},
{"k":25,"x":2180,"y":0},{"k":25,"x":2186,"y":0.02},{"k":25,"x":2191,"y":0.05},{"k":25,"x":2195,"y":0.1},{"k":25,"x":2198.5,"y":0.17},{"k":25,"x":2201.5,"y":0.31},{"k":25,"x":2204,"y":0.46},{"k":25,"x":2206.6,"y":0.46},{"k":25,"x":2209,"y":0.26},{"k":25,"x":2212,"y":0.12},{"k":25,"x":2215,"y":0.06},{"k":25,"x":2219,"y":0.02},{"k":25,"x":2222.5,"y":0},{"k":25,"x":2225.5,"y":-0.09},{"k":25,"x":2228,"y":-0.51},{"k":25,"x":2230.5,"y":-0.66},{"k":25,"x":2233,"y":-0.27},{"k":25,"x":2235.5,"y":-0.12},{"k":25,"x":2238,"y":-0.05},{"k":25,"x":2242,"y":-0.04},{"k":25,"x":2250.1,"y":-0.02},
{"k":26,"x":2180,"y":0},{"k":26,"x":2186,"y":0.01},{"k":26,"x":2191,"y":0.04},{"k":26,"x":2195,"y":0.08},{"k":26,"x":2198.5,"y":0.14},{"k":26,"x":2201.5,"y":0.26},{"k":26,"x":2204,"y":0.39},{"k":26,"x":2206.6,"y":0.39},{"k":26,"x":2209,"y":0.22},{"k":26,"x":2212,"y":0.10},{"k":26,"x":2215,"y":0.05},{"k":26,"x":2219,"y":0.02},{"k":26,"x":2222.5,"y":0.01},{"k":26,"x":2225.5,"y":-0.05},{"k":26,"x":2228,"y":-0.42},{"k":26,"x":2230.5,"y":-0.56},{"k":26,"x":2233,"y":-0.23},{"k":26,"x":2235.5,"y":-0.10},{"k":26,"x":2238,"y":-0.04},{"k":26,"x":2242,"y":-0.03},{"k":26,"x":2250.1,"y":-0.01},
{"k":27,"x":2180,"y":0},{"k":27,"x":2186,"y":0.01},{"k":27,"x":2191,"y":0.03},{"k":27,"x":2195,"y":0.07},{"k":27,"x":2198.5,"y":0.12},{"k":27,"x":2201.5,"y":0.22},{"k":27,"x":2204,"y":0.32},{"k":27,"x":2206.6,"y":0.32},{"k":27,"x":2209,"y":0.18},{"k":27,"x":2212,"y":0.09},{"k":27,"x":2215,"y":0.04},{"k":27,"x":2219,"y":0.02},{"k":27,"x":2222.5,"y":0.03},{"k":27,"x":2225.5,"y":-0.01},{"k":27,"x":2228,"y":-0.34},{"k":27,"x":2230.5,"y":-0.46},{"k":27,"x":2233,"y":-0.19},{"k":27,"x":2235.5,"y":-0.08},{"k":27,"x":2238,"y":-0.04},{"k":27,"x":2242,"y":-0.03},{"k":27,"x":2250.1,"y":-0.01},
{"k":28,"x":2180,"y":0},{"k":28,"x":2186,"y":0.01},{"k":28,"x":2191,"y":0.02},{"k":28,"x":2195,"y":0.05},{"k":28,"x":2198.5,"y":0.09},{"k":28,"x":2201.5,"y":0.17},{"k":28,"x":2204,"y":0.25},{"k":28,"x":2206.6,"y":0.25},{"k":28,"x":2209,"y":0.14},{"k":28,"x":2212,"y":0.07},{"k":28,"x":2215,"y":0.03},{"k":28,"x":2219,"y":0.02},{"k":28,"x":2222.5,"y":0.04},{"k":28,"x":2225.5,"y":0.03},{"k":28,"x":2228,"y":-0.25},{"k":28,"x":2230.5,"y":-0.36},{"k":28,"x":2233,"y":-0.15},{"k":28,"x":2235.5,"y":-0.06},{"k":28,"x":2238,"y":-0.03},{"k":28,"x":2242,"y":-0.02},{"k":28,"x":2250.1,"y":-0.01},
{"k":29,"x":2180,"y":0},{"k":29,"x":2186,"y":0.01},{"k":29,"x":2191,"y":0.02},{"k":29,"x":2195,"y":0.04},{"k":29,"x":2198.5,"y":0.07},{"k":29,"x":2201.5,"y":0.13},{"k":29,"x":2204,"y":0.19},{"k":29,"x":2206.6,"y":0.19},{"k":29,"x":2209,"y":0.11},{"k":29,"x":2212,"y":0.05},{"k":29,"x":2215,"y":0.03},{"k":29,"x":2219,"y":0.02},{"k":29,"x":2222.5,"y":0.05},{"k":29,"x":2225.5,"y":0.07},{"k":29,"x":2228,"y":-0.17},{"k":29,"x":2230.5,"y":-0.26},{"k":29,"x":2233,"y":-0.11},{"k":29,"x":2235.5,"y":-0.05},{"k":29,"x":2238,"y":-0.02},{"k":29,"x":2242,"y":-0.02},{"k":29,"x":2250.1,"y":-0.01},
{"k":30,"x":2180,"y":0},{"k":30,"x":2186,"y":0},{"k":30,"x":2191,"y":0.01},{"k":30,"x":2195,"y":0.02},{"k":30,"x":2198.5,"y":0.04},{"k":30,"x":2201.5,"y":0.08},{"k":30,"x":2204,"y":0.12},{"k":30,"x":2206.6,"y":0.12},{"k":30,"x":2209,"y":0.07},{"k":30,"x":2212,"y":0.03},{"k":30,"x":2215,"y":0.02},{"k":30,"x":2219,"y":0.02},{"k":30,"x":2222.5,"y":0.06},{"k":30,"x":2225.5,"y":0.11},{"k":30,"x":2228,"y":-0.08},{"k":30,"x":2230.5,"y":-0.16},{"k":30,"x":2233,"y":-0.07},{"k":30,"x":2235.5,"y":-0.03},{"k":30,"x":2238,"y":-0.01},{"k":30,"x":2242,"y":-0.01},{"k":30,"x":2250.1,"y":0}
],
"cL":[{"k":0,"x":2183.14,"x2":2192.91,"y":-0.47},{"k":7.5,"x":2183.14,"x2":2192.91,"y":-1.0},{"k":16.5,"x":2183.14,"x2":2192.91,"y":-1.51},{"k":23.4,"x":2183.14,"x2":2192.91,"y":-2.03},{"k":30,"x":2183.14,"x2":2192.91,"y":-2.54}],
"cT":[{"x":2193.96,"y":-0.47,"t":"500 fs"},{"x":2193.96,"y":-1.0,"t":"2943 fs"},{"x":2193.96,"y":-1.51,"t":"6043 fs"},{"x":2193.96,"y":-2.03,"t":"12409 fs"},{"x":2193.96,"y":-2.54,"t":"31623 fs"},{"x":2183.14,"y":-3.1,"t":"54 time points"},{"x":2184.54,"y":2.43,"t":"CNP"},{"x":2238.12,"y":-2.59,"t":"1.0"}],
"cG":[{"x":2244.57,"y":2.67,"t":"c"}],
"cS":[{"x":2244.22,"x2":2244.22,"y":-2.04,"y2":-3.04},{"x":2242.48,"x2":2245.97,"y":-2.04,"y2":-2.04},{"x":2242.48,"x2":2245.97,"y":-3.04,"y2":-3.04}],
"d":[
{"k":0,"x":2055.05,"y":4.52},{"k":0,"x":2059.4,"y":4.97},{"k":0,"x":2061.4,"y":5.47},{"k":0,"x":2063.7,"y":6.34},{"k":0,"x":2067.9,"y":6.11},{"k":0,"x":2069.9,"y":6.34},{"k":0,"x":2074,"y":6.0},{"k":0,"x":2078.2,"y":4.52},{"k":0,"x":2082,"y":2.7},{"k":0,"x":2084,"y":1.7},{"k":0,"x":2086,"y":0.2},{"k":0,"x":2088,"y":-2.07},{"k":0,"x":2090,"y":-4.33},{"k":0,"x":2092.3,"y":-7.06},{"k":0,"x":2094.4,"y":-9.78},{"k":0,"x":2096.7,"y":-12.06},{"k":0,"x":2098.9,"y":-13.19},{"k":0,"x":2100.8,"y":-12.17},{"k":0,"x":2103,"y":-10.2},{"k":0,"x":2105,"y":-8.19},{"k":0,"x":2107,"y":-6.15},{"k":0,"x":2110,"y":-4.58},{"k":0,"x":2115.6,"y":-2.18},
{"k":1,"x":2055.05,"y":4.34},{"k":1,"x":2059.4,"y":4.77},{"k":1,"x":2061.4,"y":5.25},{"k":1,"x":2063.7,"y":6.09},{"k":1,"x":2067.9,"y":5.87},{"k":1,"x":2069.9,"y":6.09},{"k":1,"x":2074,"y":5.76},{"k":1,"x":2078.2,"y":4.36},{"k":1,"x":2082,"y":2.65},{"k":1,"x":2084,"y":1.73},{"k":1,"x":2086,"y":0.35},{"k":1,"x":2088,"y":-1.79},{"k":1,"x":2090,"y":-4.02},{"k":1,"x":2092.3,"y":-6.68},{"k":1,"x":2094.4,"y":-9.34},{"k":1,"x":2096.7,"y":-11.58},{"k":1,"x":2098.9,"y":-12.66},{"k":1,"x":2100.8,"y":-11.69},{"k":1,"x":2103,"y":-9.79},{"k":1,"x":2105,"y":-7.86},{"k":1,"x":2107,"y":-5.9},{"k":1,"x":2110,"y":-4.4},{"k":1,"x":2115.6,"y":-2.09},
{"k":2,"x":2055.05,"y":4.16},{"k":2,"x":2059.4,"y":4.57},{"k":2,"x":2061.4,"y":5.03},{"k":2,"x":2063.7,"y":5.83},{"k":2,"x":2067.9,"y":5.62},{"k":2,"x":2069.9,"y":5.83},{"k":2,"x":2074,"y":5.52},{"k":2,"x":2078.2,"y":4.2},{"k":2,"x":2082,"y":2.6},{"k":2,"x":2084,"y":1.75},{"k":2,"x":2086,"y":0.5},{"k":2,"x":2088,"y":-1.5},{"k":2,"x":2090,"y":-3.7},{"k":2,"x":2092.3,"y":-6.3},{"k":2,"x":2094.4,"y":-8.9},{"k":2,"x":2096.7,"y":-11.1},{"k":2,"x":2098.9,"y":-12.13},{"k":2,"x":2100.8,"y":-11.2},{"k":2,"x":2103,"y":-9.38},{"k":2,"x":2105,"y":-7.53},{"k":2,"x":2107,"y":-5.65},{"k":2,"x":2110,"y":-4.21},{"k":2,"x":2115.6,"y":-2.0},
{"k":3,"x":2055.05,"y":3.98},{"k":3,"x":2059.4,"y":4.37},{"k":3,"x":2061.4,"y":4.81},{"k":3,"x":2063.7,"y":5.58},{"k":3,"x":2067.9,"y":5.38},{"k":3,"x":2069.9,"y":5.58},{"k":3,"x":2074,"y":5.28},{"k":3,"x":2078.2,"y":4.03},{"k":3,"x":2082,"y":2.55},{"k":3,"x":2084,"y":1.78},{"k":3,"x":2086,"y":0.65},{"k":3,"x":2088,"y":-1.25},{"k":3,"x":2090,"y":-3.4},{"k":3,"x":2092.3,"y":-5.95},{"k":3,"x":2094.4,"y":-8.45},{"k":3,"x":2096.7,"y":-10.6},{"k":3,"x":2098.9,"y":-11.61},{"k":3,"x":2100.8,"y":-10.72},{"k":3,"x":2103,"y":-8.97},{"k":3,"x":2105,"y":-7.21},{"k":3,"x":2107,"y":-5.41},{"k":3,"x":2110,"y":-4.03},{"k":3,"x":2115.6,"y":-1.92},
{"k":4,"x":2055.05,"y":3.80},{"k":4,"x":2059.4,"y":4.17},{"k":4,"x":2061.4,"y":4.59},{"k":4,"x":2063.7,"y":5.33},{"k":4,"x":2067.9,"y":5.13},{"k":4,"x":2069.9,"y":5.33},{"k":4,"x":2074,"y":5.04},{"k":4,"x":2078.2,"y":3.85},{"k":4,"x":2082,"y":2.5},{"k":4,"x":2084,"y":1.8},{"k":4,"x":2086,"y":0.8},{"k":4,"x":2088,"y":-1.0},{"k":4,"x":2090,"y":-3.1},{"k":4,"x":2092.3,"y":-5.6},{"k":4,"x":2094.4,"y":-8.0},{"k":4,"x":2096.7,"y":-10.1},{"k":4,"x":2098.9,"y":-11.08},{"k":4,"x":2100.8,"y":-10.23},{"k":4,"x":2103,"y":-8.56},{"k":4,"x":2105,"y":-6.88},{"k":4,"x":2107,"y":-5.16},{"k":4,"x":2110,"y":-3.84},{"k":4,"x":2115.6,"y":-1.83},
{"k":5,"x":2055.05,"y":3.64},{"k":5,"x":2059.4,"y":4.0},{"k":5,"x":2061.4,"y":4.4},{"k":5,"x":2063.7,"y":5.11},{"k":5,"x":2067.9,"y":4.92},{"k":5,"x":2069.9,"y":5.11},{"k":5,"x":2074,"y":4.83},{"k":5,"x":2078.2,"y":3.7},{"k":5,"x":2082,"y":2.48},{"k":5,"x":2084,"y":1.83},{"k":5,"x":2086,"y":0.9},{"k":5,"x":2088,"y":-0.8},{"k":5,"x":2090,"y":-2.85},{"k":5,"x":2092.3,"y":-5.25},{"k":5,"x":2094.4,"y":-7.6},{"k":5,"x":2096.7,"y":-9.7},{"k":5,"x":2098.9,"y":-10.62},{"k":5,"x":2100.8,"y":-9.8},{"k":5,"x":2103,"y":-8.21},{"k":5,"x":2105,"y":-6.6},{"k":5,"x":2107,"y":-4.95},{"k":5,"x":2110,"y":-3.68},{"k":5,"x":2115.6,"y":-1.76},
{"k":6,"x":2055.05,"y":3.48},{"k":6,"x":2059.4,"y":3.83},{"k":6,"x":2061.4,"y":4.21},{"k":6,"x":2063.7,"y":4.88},{"k":6,"x":2067.9,"y":4.70},{"k":6,"x":2069.9,"y":4.88},{"k":6,"x":2074,"y":4.62},{"k":6,"x":2078.2,"y":3.55},{"k":6,"x":2082,"y":2.45},{"k":6,"x":2084,"y":1.85},{"k":6,"x":2086,"y":1.0},{"k":6,"x":2088,"y":-0.6},{"k":6,"x":2090,"y":-2.6},{"k":6,"x":2092.3,"y":-4.9},{"k":6,"x":2094.4,"y":-7.2},{"k":6,"x":2096.7,"y":-9.3},{"k":6,"x":2098.9,"y":-10.16},{"k":6,"x":2100.8,"y":-9.37},{"k":6,"x":2103,"y":-7.85},{"k":6,"x":2105,"y":-6.31},{"k":6,"x":2107,"y":-4.73},{"k":6,"x":2110,"y":-3.52},{"k":6,"x":2115.6,"y":-1.68},
{"k":7,"x":2055.05,"y":3.32},{"k":7,"x":2059.4,"y":3.66},{"k":7,"x":2061.4,"y":4.02},{"k":7,"x":2063.7,"y":4.66},{"k":7,"x":2067.9,"y":4.49},{"k":7,"x":2069.9,"y":4.66},{"k":7,"x":2074,"y":4.41},{"k":7,"x":2078.2,"y":3.4},{"k":7,"x":2082,"y":2.4},{"k":7,"x":2084,"y":1.85},{"k":7,"x":2086,"y":1.08},{"k":7,"x":2088,"y":-0.43},{"k":7,"x":2090,"y":-2.35},{"k":7,"x":2092.3,"y":-4.6},{"k":7,"x":2094.4,"y":-6.85},{"k":7,"x":2096.7,"y":-8.85},{"k":7,"x":2098.9,"y":-9.7},{"k":7,"x":2100.8,"y":-8.95},{"k":7,"x":2103,"y":-7.5},{"k":7,"x":2105,"y":-6.02},{"k":7,"x":2107,"y":-4.52},{"k":7,"x":2110,"y":-3.36},{"k":7,"x":2115.6,"y":-1.6},
{"k":8,"x":2055.05,"y":3.16},{"k":8,"x":2059.4,"y":3.48},{"k":8,"x":2061.4,"y":3.83},{"k":8,"x":2063.7,"y":4.44},{"k":8,"x":2067.9,"y":4.28},{"k":8,"x":2069.9,"y":4.44},{"k":8,"x":2074,"y":4.2},{"k":8,"x":2078.2,"y":3.25},{"k":8,"x":2082,"y":2.35},{"k":8,"x":2084,"y":1.85},{"k":8,"x":2086,"y":1.15},{"k":8,"x":2088,"y":-0.25},{"k":8,"x":2090,"y":-2.1},{"k":8,"x":2092.3,"y":-4.3},{"k":8,"x":2094.4,"y":-6.5},{"k":8,"x":2096.7,"y":-8.4},{"k":8,"x":2098.9,"y":-9.23},{"k":8,"x":2100.8,"y":-8.52},{"k":8,"x":2103,"y":-7.14},{"k":8,"x":2105,"y":-5.73},{"k":8,"x":2107,"y":-4.30},{"k":8,"x":2110,"y":-3.20},{"k":8,"x":2115.6,"y":-1.52},
{"k":9,"x":2055.05,"y":3.0},{"k":9,"x":2059.4,"y":3.3},{"k":9,"x":2061.4,"y":3.64},{"k":9,"x":2063.7,"y":4.21},{"k":9,"x":2067.9,"y":4.06},{"k":9,"x":2069.9,"y":4.21},{"k":9,"x":2074,"y":3.99},{"k":9,"x":2078.2,"y":3.1},{"k":9,"x":2082,"y":2.33},{"k":9,"x":2084,"y":1.85},{"k":9,"x":2086,"y":1.23},{"k":9,"x":2088,"y":-0.08},{"k":9,"x":2090,"y":-1.85},{"k":9,"x":2092.3,"y":-4.0},{"k":9,"x":2094.4,"y":-6.1},{"k":9,"x":2096.7,"y":-8.0},{"k":9,"x":2098.9,"y":-8.77},{"k":9,"x":2100.8,"y":-8.1},{"k":9,"x":2103,"y":-6.78},{"k":9,"x":2105,"y":-5.45},{"k":9,"x":2107,"y":-4.09},{"k":9,"x":2110,"y":-3.04},{"k":9,"x":2115.6,"y":-1.45},
{"k":10,"x":2055.05,"y":2.85},{"k":10,"x":2059.4,"y":3.13},{"k":10,"x":2061.4,"y":3.45},{"k":10,"x":2063.7,"y":3.99},{"k":10,"x":2067.9,"y":3.85},{"k":10,"x":2069.9,"y":3.99},{"k":10,"x":2074,"y":3.78},{"k":10,"x":2078.2,"y":2.95},{"k":10,"x":2082,"y":2.3},{"k":10,"x":2084,"y":1.85},{"k":10,"x":2086,"y":1.3},{"k":10,"x":2088,"y":0.1},{"k":10,"x":2090,"y":-1.6},{"k":10,"x":2092.3,"y":-3.7},{"k":10,"x":2094.4,"y":-5.7},{"k":10,"x":2096.7,"y":-7.6},{"k":10,"x":2098.9,"y":-8.31},{"k":10,"x":2100.8,"y":-7.67},{"k":10,"x":2103,"y":-6.42},{"k":10,"x":2105,"y":-5.16},{"k":10,"x":2107,"y":-3.87},{"k":10,"x":2110,"y":-2.88},{"k":10,"x":2115.6,"y":-1.37},
{"k":11,"x":2055.05,"y":2.69},{"k":11,"x":2059.4,"y":2.96},{"k":11,"x":2061.4,"y":3.26},{"k":11,"x":2063.7,"y":3.77},{"k":11,"x":2067.9,"y":3.64},{"k":11,"x":2069.9,"y":3.77},{"k":11,"x":2074,"y":3.57},{"k":11,"x":2078.2,"y":2.8},{"k":11,"x":2082,"y":2.25},{"k":11,"x":2084,"y":1.83},{"k":11,"x":2086,"y":1.3},{"k":11,"x":2088,"y":0.25},{"k":11,"x":2090,"y":-1.35},{"k":11,"x":2092.3,"y":-3.4},{"k":11,"x":2094.4,"y":-5.35},{"k":11,"x":2096.7,"y":-7.15},{"k":11,"x":2098.9,"y":-7.85},{"k":11,"x":2100.8,"y":-7.25},{"k":11,"x":2103,"y":-6.07},{"k":11,"x":2105,"y":-4.88},{"k":11,"x":2107,"y":-3.66},{"k":11,"x":2110,"y":-2.72},{"k":11,"x":2115.6,"y":-1.3},
{"k":12,"x":2055.05,"y":2.53},{"k":12,"x":2059.4,"y":2.78},{"k":12,"x":2061.4,"y":3.06},{"k":12,"x":2063.7,"y":3.55},{"k":12,"x":2067.9,"y":3.42},{"k":12,"x":2069.9,"y":3.55},{"k":12,"x":2074,"y":3.36},{"k":12,"x":2078.2,"y":2.65},{"k":12,"x":2082,"y":2.2},{"k":12,"x":2084,"y":1.8},{"k":12,"x":2086,"y":1.3},{"k":12,"x":2088,"y":0.4},{"k":12,"x":2090,"y":-1.1},{"k":12,"x":2092.3,"y":-3.1},{"k":12,"x":2094.4,"y":-5.0},{"k":12,"x":2096.7,"y":-6.7},{"k":12,"x":2098.9,"y":-7.39},{"k":12,"x":2100.8,"y":-6.82},{"k":12,"x":2103,"y":-5.71},{"k":12,"x":2105,"y":-4.59},{"k":12,"x":2107,"y":-3.44},{"k":12,"x":2110,"y":-2.56},{"k":12,"x":2115.6,"y":-1.22},
{"k":13,"x":2055.05,"y":2.37},{"k":13,"x":2059.4,"y":2.61},{"k":13,"x":2061.4,"y":2.87},{"k":13,"x":2063.7,"y":3.33},{"k":13,"x":2067.9,"y":3.21},{"k":13,"x":2069.9,"y":3.33},{"k":13,"x":2074,"y":3.15},{"k":13,"x":2078.2,"y":2.5},{"k":13,"x":2082,"y":2.13},{"k":13,"x":2084,"y":1.78},{"k":13,"x":2086,"y":1.3},{"k":13,"x":2088,"y":0.5},{"k":13,"x":2090,"y":-0.9},{"k":13,"x":2092.3,"y":-2.8},{"k":13,"x":2094.4,"y":-4.65},{"k":13,"x":2096.7,"y":-6.3},{"k":13,"x":2098.9,"y":-6.93},{"k":13,"x":2100.8,"y":-6.39},{"k":13,"x":2103,"y":-5.35},{"k":13,"x":2105,"y":-4.3},{"k":13,"x":2107,"y":-3.23},{"k":13,"x":2110,"y":-2.4},{"k":13,"x":2115.6,"y":-1.15},
{"k":14,"x":2055.05,"y":2.21},{"k":14,"x":2059.4,"y":2.44},{"k":14,"x":2061.4,"y":2.68},{"k":14,"x":2063.7,"y":3.11},{"k":14,"x":2067.9,"y":2.99},{"k":14,"x":2069.9,"y":3.11},{"k":14,"x":2074,"y":2.94},{"k":14,"x":2078.2,"y":2.35},{"k":14,"x":2082,"y":2.05},{"k":14,"x":2084,"y":1.75},{"k":14,"x":2086,"y":1.3},{"k":14,"x":2088,"y":0.6},{"k":14,"x":2090,"y":-0.7},{"k":14,"x":2092.3,"y":-2.5},{"k":14,"x":2094.4,"y":-4.3},{"k":14,"x":2096.7,"y":-5.9},{"k":14,"x":2098.9,"y":-6.46},{"k":14,"x":2100.8,"y":-5.96},{"k":14,"x":2103,"y":-4.99},{"k":14,"x":2105,"y":-4.01},{"k":14,"x":2107,"y":-3.01},{"k":14,"x":2110,"y":-2.24},{"k":14,"x":2115.6,"y":-1.07},
{"k":15,"x":2055.05,"y":2.06},{"k":15,"x":2059.4,"y":2.27},{"k":15,"x":2061.4,"y":2.49},{"k":15,"x":2063.7,"y":2.89},{"k":15,"x":2067.9,"y":2.78},{"k":15,"x":2069.9,"y":2.89},{"k":15,"x":2074,"y":2.73},{"k":15,"x":2078.2,"y":2.2},{"k":15,"x":2082,"y":2.0},{"k":15,"x":2084,"y":1.78},{"k":15,"x":2086,"y":1.33},{"k":15,"x":2088,"y":0.7},{"k":15,"x":2090,"y":-0.45},{"k":15,"x":2092.3,"y":-2.15},{"k":15,"x":2094.4,"y":-3.9},{"k":15,"x":2096.7,"y":-5.45},{"k":15,"x":2098.9,"y":-6.0},{"k":15,"x":2100.8,"y":-5.54},{"k":15,"x":2103,"y":-4.64},{"k":15,"x":2105,"y":-3.73},{"k":15,"x":2107,"y":-2.8},{"k":15,"x":2110,"y":-2.08},{"k":15,"x":2115.6,"y":-0.99},
{"k":16,"x":2055.05,"y":1.90},{"k":16,"x":2059.4,"y":2.09},{"k":16,"x":2061.4,"y":2.30},{"k":16,"x":2063.7,"y":2.66},{"k":16,"x":2067.9,"y":2.57},{"k":16,"x":2069.9,"y":2.66},{"k":16,"x":2074,"y":2.52},{"k":16,"x":2078.2,"y":2.05},{"k":16,"x":2082,"y":1.95},{"k":16,"x":2084,"y":1.8},{"k":16,"x":2086,"y":1.35},{"k":16,"x":2088,"y":0.8},{"k":16,"x":2090,"y":-0.2},{"k":16,"x":2092.3,"y":-1.8},{"k":16,"x":2094.4,"y":-3.5},{"k":16,"x":2096.7,"y":-5.0},{"k":16,"x":2098.9,"y":-5.54},{"k":16,"x":2100.8,"y":-5.11},{"k":16,"x":2103,"y":-4.28},{"k":16,"x":2105,"y":-3.44},{"k":16,"x":2107,"y":-2.58},{"k":16,"x":2110,"y":-1.92},{"k":16,"x":2115.6,"y":-0.91},
{"k":17,"x":2055.05,"y":1.74},{"k":17,"x":2059.4,"y":1.92},{"k":17,"x":2061.4,"y":2.11},{"k":17,"x":2063.7,"y":2.44},{"k":17,"x":2067.9,"y":2.36},{"k":17,"x":2069.9,"y":2.44},{"k":17,"x":2074,"y":2.31},{"k":17,"x":2078.2,"y":1.9},{"k":17,"x":2082,"y":1.83},{"k":17,"x":2084,"y":1.73},{"k":17,"x":2086,"y":1.38},{"k":17,"x":2088,"y":0.88},{"k":17,"x":2090,"y":0.05},{"k":17,"x":2092.3,"y":-1.4},{"k":17,"x":2094.4,"y":-3.1},{"k":17,"x":2096.7,"y":-4.55},{"k":17,"x":2098.9,"y":-5.08},{"k":17,"x":2100.8,"y":-4.69},{"k":17,"x":2103,"y":-3.93},{"k":17,"x":2105,"y":-3.16},{"k":17,"x":2107,"y":-2.37},{"k":17,"x":2110,"y":-1.76},{"k":17,"x":2115.6,"y":-0.84},
{"k":18,"x":2055.05,"y":1.58},{"k":18,"x":2059.4,"y":1.74},{"k":18,"x":2061.4,"y":1.91},{"k":18,"x":2063.7,"y":2.22},{"k":18,"x":2067.9,"y":2.14},{"k":18,"x":2069.9,"y":2.22},{"k":18,"x":2074,"y":2.1},{"k":18,"x":2078.2,"y":1.75},{"k":18,"x":2082,"y":1.7},{"k":18,"x":2084,"y":1.65},{"k":18,"x":2086,"y":1.4},{"k":18,"x":2088,"y":0.95},{"k":18,"x":2090,"y":0.3},{"k":18,"x":2092.3,"y":-1.0},{"k":18,"x":2094.4,"y":-2.7},{"k":18,"x":2096.7,"y":-4.1},{"k":18,"x":2098.9,"y":-4.62},{"k":18,"x":2100.8,"y":-4.26},{"k":18,"x":2103,"y":-3.57},{"k":18,"x":2105,"y":-2.87},{"k":18,"x":2107,"y":-2.15},{"k":18,"x":2110,"y":-1.60},{"k":18,"x":2115.6,"y":-0.76},
{"k":19,"x":2055.05,"y":1.43},{"k":19,"x":2059.4,"y":1.57},{"k":19,"x":2061.4,"y":1.72},{"k":19,"x":2063.7,"y":2.0},{"k":19,"x":2067.9,"y":1.93},{"k":19,"x":2069.9,"y":2.0},{"k":19,"x":2074,"y":1.89},{"k":19,"x":2078.2,"y":1.58},{"k":19,"x":2082,"y":1.55},{"k":19,"x":2084,"y":1.52},{"k":19,"x":2086,"y":1.35},{"k":19,"x":2088,"y":0.98},{"k":19,"x":2090,"y":0.43},{"k":19,"x":2092.3,"y":-0.65},{"k":19,"x":2094.4,"y":-2.3},{"k":19,"x":2096.7,"y":-3.65},{"k":19,"x":2098.9,"y":-4.16},{"k":19,"x":2100.8,"y":-3.84},{"k":19,"x":2103,"y":-3.21},{"k":19,"x":2105,"y":-2.58},{"k":19,"x":2107,"y":-1.94},{"k":19,"x":2110,"y":-1.44},{"k":19,"x":2115.6,"y":-0.69},
{"k":20,"x":2055.05,"y":1.27},{"k":20,"x":2059.4,"y":1.39},{"k":20,"x":2061.4,"y":1.53},{"k":20,"x":2063.7,"y":1.78},{"k":20,"x":2067.9,"y":1.71},{"k":20,"x":2069.9,"y":1.78},{"k":20,"x":2074,"y":1.68},{"k":20,"x":2078.2,"y":1.4},{"k":20,"x":2082,"y":1.4},{"k":20,"x":2084,"y":1.38},{"k":20,"x":2086,"y":1.3},{"k":20,"x":2088,"y":1.0},{"k":20,"x":2090,"y":0.55},{"k":20,"x":2092.3,"y":-0.3},{"k":20,"x":2094.4,"y":-1.9},{"k":20,"x":2096.7,"y":-3.2},{"k":20,"x":2098.9,"y":-3.69},{"k":20,"x":2100.8,"y":-3.41},{"k":20,"x":2103,"y":-2.85},{"k":20,"x":2105,"y":-2.29},{"k":20,"x":2107,"y":-1.72},{"k":20,"x":2110,"y":-1.28},{"k":20,"x":2115.6,"y":-0.61},
{"k":21,"x":2055.05,"y":1.11},{"k":21,"x":2059.4,"y":1.22},{"k":21,"x":2061.4,"y":1.34},{"k":21,"x":2063.7,"y":1.56},{"k":21,"x":2067.9,"y":1.5},{"k":21,"x":2069.9,"y":1.56},{"k":21,"x":2074,"y":1.47},{"k":21,"x":2078.2,"y":1.23},{"k":21,"x":2082,"y":1.23},{"k":21,"x":2084,"y":1.22},{"k":21,"x":2086,"y":1.16},{"k":21,"x":2088,"y":0.98},{"k":21,"x":2090,"y":0.58},{"k":21,"x":2092.3,"y":-0.1},{"k":21,"x":2094.4,"y":-1.5},{"k":21,"x":2096.7,"y":-2.75},{"k":21,"x":2098.9,"y":-3.23},{"k":21,"x":2100.8,"y":-2.99},{"k":21,"x":2103,"y":-2.5},{"k":21,"x":2105,"y":-2.01},{"k":21,"x":2107,"y":-1.51},{"k":21,"x":2110,"y":-1.12},{"k":21,"x":2115.6,"y":-0.54},
{"k":22,"x":2055.05,"y":0.95},{"k":22,"x":2059.4,"y":1.04},{"k":22,"x":2061.4,"y":1.15},{"k":22,"x":2063.7,"y":1.33},{"k":22,"x":2067.9,"y":1.28},{"k":22,"x":2069.9,"y":1.33},{"k":22,"x":2074,"y":1.26},{"k":22,"x":2078.2,"y":1.05},{"k":22,"x":2082,"y":1.05},{"k":22,"x":2084,"y":1.05},{"k":22,"x":2086,"y":1.02},{"k":22,"x":2088,"y":0.95},{"k":22,"x":2090,"y":0.6},{"k":22,"x":2092.3,"y":0.1},{"k":22,"x":2094.4,"y":-1.1},{"k":22,"x":2096.7,"y":-2.3},{"k":22,"x":2098.9,"y":-2.77},{"k":22,"x":2100.8,"y":-2.56},{"k":22,"x":2103,"y":-2.14},{"k":22,"x":2105,"y":-1.72},{"k":22,"x":2107,"y":-1.29},{"k":22,"x":2110,"y":-0.96},{"k":22,"x":2115.6,"y":-0.46},
{"k":23,"x":2055.05,"y":0.79},{"k":23,"x":2059.4,"y":0.87},{"k":23,"x":2061.4,"y":0.96},{"k":23,"x":2063.7,"y":1.11},{"k":23,"x":2067.9,"y":1.07},{"k":23,"x":2069.9,"y":1.11},{"k":23,"x":2074,"y":1.05},{"k":23,"x":2078.2,"y":0.88},{"k":23,"x":2082,"y":0.88},{"k":23,"x":2084,"y":0.88},{"k":23,"x":2086,"y":0.86},{"k":23,"x":2088,"y":0.82},{"k":23,"x":2090,"y":0.58},{"k":23,"x":2092.3,"y":0.13},{"k":23,"x":2094.4,"y":-0.85},{"k":23,"x":2096.7,"y":-1.9},{"k":23,"x":2098.9,"y":-2.31},{"k":23,"x":2100.8,"y":-2.14},{"k":23,"x":2103,"y":-1.79},{"k":23,"x":2105,"y":-1.44},{"k":23,"x":2107,"y":-1.08},{"k":23,"x":2110,"y":-0.8},{"k":23,"x":2115.6,"y":-0.39},
{"k":24,"x":2055.05,"y":0.63},{"k":24,"x":2059.4,"y":0.70},{"k":24,"x":2061.4,"y":0.77},{"k":24,"x":2063.7,"y":0.89},{"k":24,"x":2067.9,"y":0.86},{"k":24,"x":2069.9,"y":0.89},{"k":24,"x":2074,"y":0.84},{"k":24,"x":2078.2,"y":0.7},{"k":24,"x":2082,"y":0.7},{"k":24,"x":2084,"y":0.7},{"k":24,"x":2086,"y":0.7},{"k":24,"x":2088,"y":0.68},{"k":24,"x":2090,"y":0.55},{"k":24,"x":2092.3,"y":0.15},{"k":24,"x":2094.4,"y":-0.6},{"k":24,"x":2096.7,"y":-1.5},{"k":24,"x":2098.9,"y":-1.85},{"k":24,"x":2100.8,"y":-1.71},{"k":24,"x":2103,"y":-1.43},{"k":24,"x":2105,"y":-1.15},{"k":24,"x":2107,"y":-0.86},{"k":24,"x":2110,"y":-0.64},{"k":24,"x":2115.6,"y":-0.31},
{"k":25,"x":2055.05,"y":0.48},{"k":25,"x":2059.4,"y":0.53},{"k":25,"x":2061.4,"y":0.58},{"k":25,"x":2063.7,"y":0.67},{"k":25,"x":2067.9,"y":0.65},{"k":25,"x":2069.9,"y":0.67},{"k":25,"x":2074,"y":0.63},{"k":25,"x":2078.2,"y":0.53},{"k":25,"x":2082,"y":0.53},{"k":25,"x":2084,"y":0.53},{"k":25,"x":2086,"y":0.53},{"k":25,"x":2088,"y":0.52},{"k":25,"x":2090,"y":0.45},{"k":25,"x":2092.3,"y":0.13},{"k":25,"x":2094.4,"y":-0.43},{"k":25,"x":2096.7,"y":-1.13},{"k":25,"x":2098.9,"y":-1.39},{"k":25,"x":2100.8,"y":-1.28},{"k":25,"x":2103,"y":-1.07},{"k":25,"x":2105,"y":-0.86},{"k":25,"x":2107,"y":-0.65},{"k":25,"x":2110,"y":-0.48},{"k":25,"x":2115.6,"y":-0.23},
{"k":26,"x":2055.05,"y":0.32},{"k":26,"x":2059.4,"y":0.35},{"k":26,"x":2061.4,"y":0.38},{"k":26,"x":2063.7,"y":0.44},{"k":26,"x":2067.9,"y":0.43},{"k":26,"x":2069.9,"y":0.44},{"k":26,"x":2074,"y":0.42},{"k":26,"x":2078.2,"y":0.35},{"k":26,"x":2082,"y":0.35},{"k":26,"x":2084,"y":0.35},{"k":26,"x":2086,"y":0.35},{"k":26,"x":2088,"y":0.35},{"k":26,"x":2090,"y":0.35},{"k":26,"x":2092.3,"y":0.1},{"k":26,"x":2094.4,"y":-0.25},{"k":26,"x":2096.7,"y":-0.75},{"k":26,"x":2098.9,"y":-0.92},{"k":26,"x":2100.8,"y":-0.85},{"k":26,"x":2103,"y":-0.71},{"k":26,"x":2105,"y":-0.57},{"k":26,"x":2107,"y":-0.43},{"k":26,"x":2110,"y":-0.32},{"k":26,"x":2115.6,"y":-0.15}
],
"dL":[{"k":0,"x":2058.45,"x2":2066.95,"y":-1.72},{"k":6.5,"x":2058.45,"x2":2066.95,"y":-3.84},{"k":14.3,"x":2058.45,"x2":2066.95,"y":-5.88},{"k":20.2,"x":2058.45,"x2":2066.95,"y":-7.92},{"k":26,"x":2058.45,"x2":2066.95,"y":-9.97}],
"dT":[{"x":2068.03,"y":-1.72,"t":"500 fs"},{"x":2068.03,"y":-3.84,"t":"2943 fs"},{"x":2068.03,"y":-5.88,"t":"6043 fs"},{"x":2068.03,"y":-7.92,"t":"12409 fs"},{"x":2068.03,"y":-9.97,"t":"31623 fs"},{"x":2058.45,"y":-12.2,"t":"54 time points"},{"x":2058.91,"y":9.87,"t":"N3A"},{"x":2106.05,"y":-11.25,"t":"2.5"}],
"dG":[{"x":2113.94,"y":10.69,"t":"d"}],
"dS":[{"x":2111.77,"x2":2111.77,"y":-9.9,"y2":-12.4},{"x":2110.23,"x2":2113.47,"y":-9.9,"y2":-9.9},{"x":2110.23,"x2":2113.47,"y":-12.4,"y2":-12.4}]
},
"concat":[
{"width":401,"height":400,"resolve":{"axis":{"x":"independent","y":"independent"}},
"layer":[
{"data":{"name":"a"},"mark":{"type":"line","strokeWidth":1,"clip":true},
"encoding":{"x":{"field":"x","type":"quantitative","scale":{"domain":[2051.8,2114.2],"nice":false,"zero":false},"axis":{"orient":"bottom","values":[2060,2070,2080,2090,2100,2110],"format":"d","labelExpr":"datum.value % 20 == 0 ? datum.label : ''","labelOffset":-13,"title":"wavenumber/cm⁻¹","titleX":209,"titleY":50,"titleBaseline":"alphabetic"}},
"y":{"field":"y","type":"quantitative","scale":{"domain":[-6,3.6],"nice":false,"zero":false},"axis":{"orient":"left","values":[-5.4,-4.8,-4.2,-3.6,-3,-2.4,-1.8,-1.2,-0.6,0,0.6,1.2,1.8,2.4,3],"labels":false,"title":"Δ absorption","titleX":-23,"titleY":190,"titleBaseline":"alphabetic"}},
"color":{"field":"k","type":"quantitative","scale":{"domain":[0,3,6,9,12],"range":["#0b1564","#1d6a90","#40a8bc","#78dcc8","#c8f7c2"]},"legend":null},
"detail":{"field":"k","type":"nominal"}}},
{"data":{"name":"aL"},"mark":{"type":"rule","strokeWidth":1.5},
"encoding":{"x":{"field":"x","type":"quantitative","axis":{"orient":"top","values":[2060,2070,2080,2090,2100,2110],"labels":false,"title":null}},"x2":{"field":"x2"},
"y":{"field":"y","type":"quantitative","axis":{"orient":"right","values":[-5.4,-4.8,-4.2,-3.6,-3,-2.4,-1.8,-1.2,-0.6,0,0.6,1.2,1.8,2.4,3],"labels":false,"title":null}},
"color":{"field":"k","type":"quantitative","legend":null}}},
{"data":{"name":"aT"},"mark":{"type":"text","align":"left","baseline":"middle","fontSize":24},"encoding":{"x":{"field":"x","type":"quantitative","axis":null},"y":{"field":"y","type":"quantitative","axis":null},"text":{"field":"t"}}},
{"data":{"name":"aG"},"mark":{"type":"text","align":"center","baseline":"middle","fontSize":24,"fontStyle":"italic"},"encoding":{"x":{"field":"x","type":"quantitative","axis":null},"y":{"field":"y","type":"quantitative","axis":null},"text":{"field":"t"}}},
{"data":{"name":"aS"},"mark":{"type":"rule","strokeWidth":3,"color":"black"},"encoding":{"x":{"field":"x","type":"quantitative","axis":null},"x2":{"field":"x2"},"y":{"field":"y","type":"quantitative","axis":null},"y2":{"field":"y2"}}}
]},
{"width":392,"height":400,"resolve":{"axis":{"x":"independent","y":"independent"}},
"layer":[
{"data":{"name":"b"},"mark":{"type":"line","strokeWidth":1,"clip":true},
"encoding":{"x":{"field":"x","type":"quantitative","scale":{"domain":[2092,2156.6],"nice":false,"zero":false},"axis":{"orient":"bottom","values":[2100,2110,2120,2130,2140,2150],"format":"d","labelExpr":"datum.value % 20 == 0 ? datum.label : ''","labelOffset":-13,"title":"wavenumber/cm⁻¹","titleX":218,"titleY":50,"titleBaseline":"alphabetic"}},
"y":{"field":"y","type":"quantitative","scale":{"domain":[-6,3.6],"nice":false,"zero":false},"axis":{"orient":"left","values":[-5.4,-4.8,-4.2,-3.6,-3,-2.4,-1.8,-1.2,-0.6,0,0.6,1.2,1.8,2.4,3],"labels":false,"title":"Δ absorption","titleX":-24,"titleY":190,"titleBaseline":"alphabetic"}},
"color":{"field":"k","type":"quantitative","scale":{"domain":[0,3,6,9,12],"range":["#0b1564","#1d6a90","#40a8bc","#78dcc8","#c8f7c2"]},"legend":null},
"detail":{"field":"k","type":"nominal"}}},
{"data":{"name":"bL"},"mark":{"type":"rule","strokeWidth":1.5},
"encoding":{"x":{"field":"x","type":"quantitative","axis":{"orient":"top","values":[2100,2110,2120,2130,2140,2150],"labels":false,"title":null}},"x2":{"field":"x2"},
"y":{"field":"y","type":"quantitative","axis":{"orient":"right","values":[-5.4,-4.8,-4.2,-3.6,-3,-2.4,-1.8,-1.2,-0.6,0,0.6,1.2,1.8,2.4,3],"labels":false,"title":null}},
"color":{"field":"k","type":"quantitative","legend":null}}},
{"data":{"name":"bT"},"mark":{"type":"text","align":"left","baseline":"middle","fontSize":24},"encoding":{"x":{"field":"x","type":"quantitative","axis":null},"y":{"field":"y","type":"quantitative","axis":null},"text":{"field":"t"}}},
{"data":{"name":"bG"},"mark":{"type":"text","align":"center","baseline":"middle","fontSize":24,"fontStyle":"italic"},"encoding":{"x":{"field":"x","type":"quantitative","axis":null},"y":{"field":"y","type":"quantitative","axis":null},"text":{"field":"t"}}},
{"data":{"name":"bS"},"mark":{"type":"rule","strokeWidth":3,"color":"black"},"encoding":{"x":{"field":"x","type":"quantitative","axis":null},"x2":{"field":"x2"},"y":{"field":"y","type":"quantitative","axis":null},"y2":{"field":"y2"}}}
]},
{"width":401,"height":400,"resolve":{"axis":{"x":"independent","y":"independent"}},
"layer":[
{"data":{"name":"c"},"mark":{"type":"line","strokeWidth":1,"clip":true},
"encoding":{"x":{"field":"x","type":"quantitative","scale":{"domain":[2180,2250.1],"nice":false,"zero":false},"axis":{"orient":"bottom","values":[2180,2190,2200,2210,2220,2230,2240,2250],"format":"d","labelExpr":"datum.value % 20 == 0 ? datum.label : ''","labelOffset":-13,"title":"wavenumber/cm⁻¹","titleX":209,"titleY":54,"titleBaseline":"alphabetic"}},
"y":{"field":"y","type":"quantitative","scale":{"domain":[-3.82,3.0],"nice":false,"zero":false},"axis":{"orient":"left","values":[-3.5,-3,-2.5,-2,-1.5,-1,-0.5,0,0.5,1,1.5,2,2.5],"labels":false,"title":"Δ absorption","titleX":-23,"titleY":183,"titleBaseline":"alphabetic"}},
"color":{"field":"k","type":"quantitative","scale":{"domain":[0,7.5,15,22.5,30],"range":["#0b1564","#1d6a90","#40a8bc","#78dcc8","#c8f7c2"]},"legend":null},
"detail":{"field":"k","type":"nominal"}}},
{"data":{"name":"cL"},"mark":{"type":"rule","strokeWidth":1.5},
"encoding":{"x":{"field":"x","type":"quantitative","axis":{"orient":"top","values":[2190,2200,2210,2220,2230,2240],"labels":false,"title":null}},"x2":{"field":"x2"},
"y":{"field":"y","type":"quantitative","axis":{"orient":"right","values":[-3.5,-3,-2.5,-2,-1.5,-1,-0.5,0,0.5,1,1.5,2,2.5],"labels":false,"title":null}},
"color":{"field":"k","type":"quantitative","legend":null}}},
{"data":{"name":"cT"},"mark":{"type":"text","align":"left","baseline":"middle","fontSize":24},"encoding":{"x":{"field":"x","type":"quantitative","axis":null},"y":{"field":"y","type":"quantitative","axis":null},"text":{"field":"t"}}},
{"data":{"name":"cG"},"mark":{"type":"text","align":"center","baseline":"middle","fontSize":24,"fontStyle":"italic"},"encoding":{"x":{"field":"x","type":"quantitative","axis":null},"y":{"field":"y","type":"quantitative","axis":null},"text":{"field":"t"}}},
{"data":{"name":"cS"},"mark":{"type":"rule","strokeWidth":3,"color":"black"},"encoding":{"x":{"field":"x","type":"quantitative","axis":null},"x2":{"field":"x2"},"y":{"field":"y","type":"quantitative","axis":null},"y2":{"field":"y2"}}}
]},
{"width":392,"height":400,"resolve":{"axis":{"x":"independent","y":"independent"}},
"layer":[
{"data":{"name":"d"},"mark":{"type":"line","strokeWidth":1,"clip":true},
"encoding":{"x":{"field":"x","type":"quantitative","scale":{"domain":[2055.05,2115.6],"nice":false,"zero":false},"axis":{"orient":"bottom","values":[2060,2070,2080,2090,2100,2110],"format":"d","labelExpr":"datum.value % 20 == 0 ? datum.label : ''","labelOffset":-13,"title":"wavenumber/cm⁻¹","titleX":218,"titleY":54,"titleBaseline":"alphabetic"}},
"y":{"field":"y","type":"quantitative","scale":{"domain":[-15.08,12.17],"nice":false,"zero":false},"axis":{"orient":"left","values":[-12.5,-10,-7.5,-5,-2.5,0,2.5,5,7.5,10],"labels":false,"title":"Δ absorption","titleX":-24,"titleY":183,"titleBaseline":"alphabetic"}},
"color":{"field":"k","type":"quantitative","scale":{"domain":[0,6.5,13,19.5,26],"range":["#0b1564","#1d6a90","#40a8bc","#78dcc8","#c8f7c2"]},"legend":null},
"detail":{"field":"k","type":"nominal"}}},
{"data":{"name":"dL"},"mark":{"type":"rule","strokeWidth":1.5},
"encoding":{"x":{"field":"x","type":"quantitative","axis":{"orient":"top","values":[2060,2070,2080,2090,2100,2110],"labels":false,"title":null}},"x2":{"field":"x2"},
"y":{"field":"y","type":"quantitative","axis":{"orient":"right","values":[-12.5,-10,-7.5,-5,-2.5,0,2.5,5,7.5,10],"labels":false,"title":null}},
"color":{"field":"k","type":"quantitative","legend":null}}},
{"data":{"name":"dT"},"mark":{"type":"text","align":"left","baseline":"middle","fontSize":24},"encoding":{"x":{"field":"x","type":"quantitative","axis":null},"y":{"field":"y","type":"quantitative","axis":null},"text":{"field":"t"}}},
{"data":{"name":"dG"},"mark":{"type":"text","align":"center","baseline":"middle","fontSize":24,"fontStyle":"italic"},"encoding":{"x":{"field":"x","type":"quantitative","axis":null},"y":{"field":"y","type":"quantitative","axis":null},"text":{"field":"t"}}},
{"data":{"name":"dS"},"mark":{"type":"rule","strokeWidth":3,"color":"black"},"encoding":{"x":{"field":"x","type":"quantitative","axis":null},"x2":{"field":"x2"},"y":{"field":"y","type":"quantitative","axis":null},"y2":{"field":"y2"}}}
]}
]
}
